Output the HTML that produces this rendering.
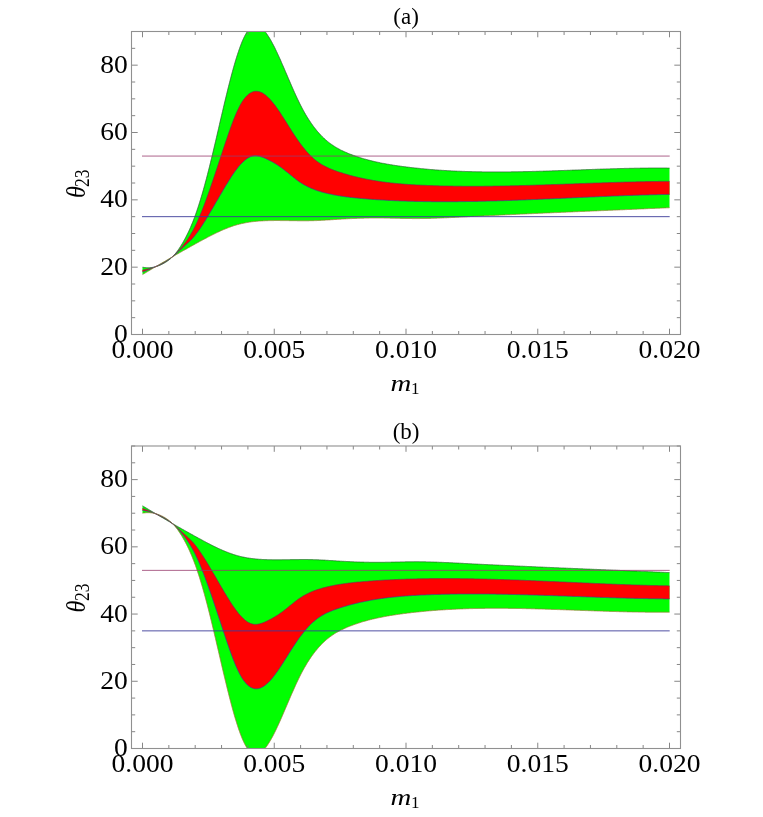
<!DOCTYPE html>
<html><head><meta charset="utf-8"><title>theta23 vs m1</title>
<style>
html,body{margin:0;padding:0;background:#fff;}
svg{display:block;}
text{font-family:"Liberation Serif",serif;fill:#000;}
.tk{font-size:26px;}
.tt{font-size:23px;}
.ax{font-size:26px;}
.sub{font-size:18px;}
</style></head><body>
<svg width="763" height="817" viewBox="0 0 763 817">
<rect width="763" height="817" fill="#fff"/>
<g opacity="0.999">
<clipPath id="c1"><rect x="131.5" y="31.5" width="549.0" height="303.0"/></clipPath>
<g clip-path="url(#c1)">
<path d="M142.5 267.2 L143.5 267.3 L144.5 267.5 L145.5 267.6 L146.5 267.7 L147.5 267.7 L148.5 267.7 L149.5 267.7 L150.5 267.6 L151.5 267.5 L152.5 267.4 L153.5 267.2 L154.5 267.0 L155.5 266.8 L156.5 266.5 L157.5 266.2 L158.5 265.8 L159.5 265.4 L160.5 265.0 L161.5 264.5 L162.5 264.0 L163.5 263.5 L164.5 262.9 L165.5 262.3 L166.5 261.7 L167.5 261.0 L168.5 260.3 L169.5 259.5 L170.5 258.7 L171.5 257.8 L172.5 256.8 L173.5 255.8 L174.5 254.7 L175.5 253.5 L176.5 252.2 L177.5 250.9 L178.5 249.4 L179.5 248.0 L180.5 246.4 L181.5 244.8 L182.5 243.2 L183.5 241.4 L184.5 239.6 L185.5 237.8 L186.5 235.8 L187.5 233.8 L188.5 231.8 L189.5 229.6 L190.5 227.4 L191.5 225.0 L192.5 222.6 L193.5 220.1 L194.5 217.4 L195.5 214.7 L196.5 211.9 L197.5 208.9 L198.5 205.9 L199.5 202.7 L200.5 199.5 L201.5 196.2 L202.5 192.8 L203.5 189.3 L204.5 185.7 L205.5 182.0 L206.5 178.3 L207.5 174.4 L208.5 170.5 L209.5 166.6 L210.5 162.5 L211.5 158.4 L212.5 154.3 L213.5 150.1 L214.5 145.8 L215.5 141.6 L216.5 137.3 L217.5 133.0 L218.5 128.7 L219.5 124.3 L220.5 120.0 L221.5 115.7 L222.5 111.5 L223.5 107.2 L224.5 103.0 L225.5 98.8 L226.5 94.7 L227.5 90.6 L228.5 86.6 L229.5 82.7 L230.5 78.8 L231.5 75.0 L232.5 71.3 L233.5 67.7 L234.5 64.2 L235.5 60.8 L236.5 57.5 L237.5 54.4 L238.5 51.4 L239.5 48.5 L240.5 45.8 L241.5 43.2 L242.5 40.7 L243.5 38.5 L244.5 36.4 L245.5 34.5 L246.5 32.8 L247.5 31.2 L248.5 29.9 L249.5 28.7 L250.5 27.8 L251.5 27.0 L252.5 26.4 L253.5 26.0 L254.5 25.7 L255.5 25.6 L256.5 25.6 L257.5 25.8 L258.5 26.2 L259.5 26.7 L260.5 27.3 L261.5 28.0 L262.5 28.9 L263.5 29.9 L264.5 31.0 L265.5 32.2 L266.5 33.5 L267.5 35.0 L268.5 36.5 L269.5 38.1 L270.5 39.8 L271.5 41.5 L272.5 43.4 L273.5 45.3 L274.5 47.2 L275.5 49.3 L276.5 51.4 L277.5 53.5 L278.5 55.7 L279.5 57.9 L280.5 60.1 L281.5 62.4 L282.5 64.7 L283.5 67.0 L284.5 69.3 L285.5 71.7 L286.5 74.0 L287.5 76.3 L288.5 78.7 L289.5 81.0 L290.5 83.3 L291.5 85.6 L292.5 87.9 L293.5 90.2 L294.5 92.4 L295.5 94.6 L296.5 96.8 L297.5 98.9 L298.5 101.0 L299.5 103.1 L300.5 105.1 L301.5 107.0 L302.5 108.9 L303.5 110.7 L304.5 112.5 L305.5 114.3 L306.5 116.0 L307.5 117.6 L308.5 119.2 L309.5 120.7 L310.5 122.2 L311.5 123.7 L312.5 125.1 L313.5 126.4 L314.5 127.8 L315.5 129.0 L316.5 130.3 L317.5 131.5 L318.5 132.6 L319.5 133.7 L320.5 134.8 L321.5 135.9 L322.5 136.9 L323.5 137.8 L324.5 138.8 L325.5 139.7 L326.5 140.5 L327.5 141.4 L328.5 142.2 L329.5 143.0 L330.5 143.7 L331.5 144.4 L332.5 145.1 L333.5 145.8 L334.5 146.4 L335.5 147.1 L336.5 147.7 L337.5 148.2 L338.5 148.8 L339.5 149.3 L340.5 149.9 L341.5 150.4 L342.5 150.8 L343.5 151.3 L344.5 151.8 L345.5 152.2 L346.5 152.6 L347.5 153.1 L348.5 153.5 L349.5 153.9 L350.5 154.3 L351.5 154.6 L352.5 155.0 L353.5 155.4 L354.5 155.7 L355.5 156.1 L356.5 156.4 L357.5 156.8 L358.5 157.1 L359.5 157.4 L360.5 157.8 L361.5 158.1 L362.5 158.4 L363.5 158.7 L364.5 159.0 L365.5 159.2 L366.5 159.5 L367.5 159.8 L368.5 160.1 L369.5 160.3 L370.5 160.6 L371.5 160.8 L372.5 161.1 L373.5 161.3 L374.5 161.6 L375.5 161.8 L376.5 162.0 L377.5 162.2 L378.5 162.4 L379.5 162.6 L380.5 162.9 L381.5 163.1 L382.5 163.3 L383.5 163.4 L384.5 163.6 L385.5 163.8 L386.5 164.0 L387.5 164.2 L388.5 164.3 L389.5 164.5 L390.5 164.7 L391.5 164.8 L392.5 165.0 L393.5 165.2 L394.5 165.3 L395.5 165.5 L396.5 165.6 L397.5 165.8 L398.5 165.9 L399.5 166.0 L400.5 166.2 L401.5 166.3 L402.5 166.5 L403.5 166.6 L404.5 166.7 L405.5 166.8 L406.5 167.0 L407.5 167.1 L408.5 167.2 L409.5 167.3 L410.5 167.5 L411.5 167.6 L412.5 167.7 L413.5 167.8 L414.5 167.9 L415.5 168.0 L416.5 168.1 L417.5 168.2 L418.5 168.3 L419.5 168.4 L420.5 168.6 L421.5 168.7 L422.5 168.7 L423.5 168.8 L424.5 168.9 L425.5 169.0 L426.5 169.1 L427.5 169.2 L428.5 169.3 L429.5 169.4 L430.5 169.5 L431.5 169.6 L432.5 169.6 L433.5 169.7 L434.5 169.8 L435.5 169.9 L436.5 169.9 L437.5 170.0 L438.5 170.1 L439.5 170.2 L440.5 170.2 L441.5 170.3 L442.5 170.4 L443.5 170.4 L444.5 170.5 L445.5 170.5 L446.5 170.6 L447.5 170.7 L448.5 170.7 L449.5 170.8 L450.5 170.8 L451.5 170.9 L452.5 170.9 L453.5 171.0 L454.5 171.0 L455.5 171.1 L456.5 171.1 L457.5 171.2 L458.5 171.2 L459.5 171.2 L460.5 171.3 L461.5 171.3 L462.5 171.4 L463.5 171.4 L464.5 171.4 L465.5 171.5 L466.5 171.5 L467.5 171.5 L468.5 171.6 L469.5 171.6 L470.5 171.6 L471.5 171.6 L472.5 171.7 L473.5 171.7 L474.5 171.7 L475.5 171.7 L476.5 171.8 L477.5 171.8 L478.5 171.8 L479.5 171.8 L480.5 171.8 L481.5 171.8 L482.5 171.9 L483.5 171.9 L484.5 171.9 L485.5 171.9 L486.5 171.9 L487.5 171.9 L488.5 171.9 L489.5 171.9 L490.5 171.9 L491.5 171.9 L492.5 171.9 L493.5 171.9 L494.5 171.9 L495.5 171.9 L496.5 171.9 L497.5 171.9 L498.5 171.9 L499.5 171.9 L500.5 171.9 L501.5 171.9 L502.5 171.9 L503.5 171.9 L504.5 171.9 L505.5 171.9 L506.5 171.9 L507.5 171.9 L508.5 171.9 L509.5 171.9 L510.5 171.9 L511.5 171.8 L512.5 171.8 L513.5 171.8 L514.5 171.8 L515.5 171.8 L516.5 171.8 L517.5 171.8 L518.5 171.7 L519.5 171.7 L520.5 171.7 L521.5 171.7 L522.5 171.7 L523.5 171.6 L524.5 171.6 L525.5 171.6 L526.5 171.6 L527.5 171.6 L528.5 171.5 L529.5 171.5 L530.5 171.5 L531.5 171.5 L532.5 171.4 L533.5 171.4 L534.5 171.4 L535.5 171.4 L536.5 171.3 L537.5 171.3 L538.5 171.3 L539.5 171.2 L540.5 171.2 L541.5 171.2 L542.5 171.2 L543.5 171.1 L544.5 171.1 L545.5 171.1 L546.5 171.0 L547.5 171.0 L548.5 171.0 L549.5 170.9 L550.5 170.9 L551.5 170.9 L552.5 170.8 L553.5 170.8 L554.5 170.8 L555.5 170.7 L556.5 170.7 L557.5 170.7 L558.5 170.6 L559.5 170.6 L560.5 170.6 L561.5 170.5 L562.5 170.5 L563.5 170.5 L564.5 170.4 L565.5 170.4 L566.5 170.4 L567.5 170.3 L568.5 170.3 L569.5 170.3 L570.5 170.2 L571.5 170.2 L572.5 170.1 L573.5 170.1 L574.5 170.1 L575.5 170.0 L576.5 170.0 L577.5 170.0 L578.5 169.9 L579.5 169.9 L580.5 169.9 L581.5 169.8 L582.5 169.8 L583.5 169.7 L584.5 169.7 L585.5 169.7 L586.5 169.6 L587.5 169.6 L588.5 169.6 L589.5 169.5 L590.5 169.5 L591.5 169.5 L592.5 169.4 L593.5 169.4 L594.5 169.4 L595.5 169.3 L596.5 169.3 L597.5 169.2 L598.5 169.2 L599.5 169.2 L600.5 169.1 L601.5 169.1 L602.5 169.1 L603.5 169.0 L604.5 169.0 L605.5 169.0 L606.5 168.9 L607.5 168.9 L608.5 168.9 L609.5 168.9 L610.5 168.8 L611.5 168.8 L612.5 168.8 L613.5 168.7 L614.5 168.7 L615.5 168.7 L616.5 168.7 L617.5 168.6 L618.5 168.6 L619.5 168.6 L620.5 168.5 L621.5 168.5 L622.5 168.5 L623.5 168.5 L624.5 168.4 L625.5 168.4 L626.5 168.4 L627.5 168.4 L628.5 168.4 L629.5 168.3 L630.5 168.3 L631.5 168.3 L632.5 168.3 L633.5 168.3 L634.5 168.2 L635.5 168.2 L636.5 168.2 L637.5 168.2 L638.5 168.2 L639.5 168.2 L640.5 168.1 L641.5 168.1 L642.5 168.1 L643.5 168.1 L644.5 168.1 L645.5 168.1 L646.5 168.1 L647.5 168.1 L648.5 168.0 L649.5 168.0 L650.5 168.0 L651.5 168.0 L652.5 168.0 L653.5 168.0 L654.5 168.0 L655.5 168.0 L656.5 168.0 L657.5 168.0 L658.5 168.0 L659.5 168.0 L660.5 168.0 L661.5 168.0 L662.5 168.0 L663.5 168.0 L664.5 168.0 L665.5 168.0 L666.5 168.0 L667.5 168.1 L668.5 168.1 L669.5 168.1 L669.5 207.7 L668.5 207.8 L667.5 207.8 L666.5 207.8 L665.5 207.9 L664.5 207.9 L663.5 208.0 L662.5 208.0 L661.5 208.1 L660.5 208.1 L659.5 208.2 L658.5 208.2 L657.5 208.2 L656.5 208.3 L655.5 208.3 L654.5 208.4 L653.5 208.4 L652.5 208.5 L651.5 208.5 L650.5 208.5 L649.5 208.6 L648.5 208.6 L647.5 208.7 L646.5 208.7 L645.5 208.8 L644.5 208.8 L643.5 208.9 L642.5 208.9 L641.5 208.9 L640.5 209.0 L639.5 209.0 L638.5 209.1 L637.5 209.1 L636.5 209.2 L635.5 209.2 L634.5 209.2 L633.5 209.3 L632.5 209.3 L631.5 209.4 L630.5 209.4 L629.5 209.5 L628.5 209.5 L627.5 209.5 L626.5 209.6 L625.5 209.6 L624.5 209.7 L623.5 209.7 L622.5 209.8 L621.5 209.8 L620.5 209.8 L619.5 209.9 L618.5 209.9 L617.5 210.0 L616.5 210.0 L615.5 210.1 L614.5 210.1 L613.5 210.1 L612.5 210.2 L611.5 210.2 L610.5 210.3 L609.5 210.3 L608.5 210.3 L607.5 210.4 L606.5 210.4 L605.5 210.5 L604.5 210.5 L603.5 210.6 L602.5 210.6 L601.5 210.6 L600.5 210.7 L599.5 210.7 L598.5 210.8 L597.5 210.8 L596.5 210.9 L595.5 210.9 L594.5 210.9 L593.5 211.0 L592.5 211.0 L591.5 211.1 L590.5 211.1 L589.5 211.2 L588.5 211.2 L587.5 211.2 L586.5 211.3 L585.5 211.3 L584.5 211.4 L583.5 211.4 L582.5 211.4 L581.5 211.5 L580.5 211.5 L579.5 211.6 L578.5 211.6 L577.5 211.7 L576.5 211.7 L575.5 211.7 L574.5 211.8 L573.5 211.8 L572.5 211.9 L571.5 211.9 L570.5 212.0 L569.5 212.0 L568.5 212.0 L567.5 212.1 L566.5 212.1 L565.5 212.2 L564.5 212.2 L563.5 212.3 L562.5 212.3 L561.5 212.3 L560.5 212.4 L559.5 212.4 L558.5 212.5 L557.5 212.5 L556.5 212.6 L555.5 212.6 L554.5 212.6 L553.5 212.7 L552.5 212.7 L551.5 212.8 L550.5 212.8 L549.5 212.9 L548.5 212.9 L547.5 212.9 L546.5 213.0 L545.5 213.0 L544.5 213.1 L543.5 213.1 L542.5 213.2 L541.5 213.2 L540.5 213.3 L539.5 213.3 L538.5 213.3 L537.5 213.4 L536.5 213.4 L535.5 213.5 L534.5 213.5 L533.5 213.6 L532.5 213.6 L531.5 213.7 L530.5 213.7 L529.5 213.7 L528.5 213.8 L527.5 213.8 L526.5 213.9 L525.5 213.9 L524.5 214.0 L523.5 214.0 L522.5 214.1 L521.5 214.1 L520.5 214.1 L519.5 214.2 L518.5 214.2 L517.5 214.3 L516.5 214.3 L515.5 214.4 L514.5 214.4 L513.5 214.5 L512.5 214.5 L511.5 214.6 L510.5 214.6 L509.5 214.7 L508.5 214.7 L507.5 214.7 L506.5 214.8 L505.5 214.8 L504.5 214.9 L503.5 214.9 L502.5 215.0 L501.5 215.0 L500.5 215.1 L499.5 215.1 L498.5 215.2 L497.5 215.2 L496.5 215.3 L495.5 215.3 L494.5 215.4 L493.5 215.4 L492.5 215.5 L491.5 215.5 L490.5 215.6 L489.5 215.6 L488.5 215.7 L487.5 215.7 L486.5 215.7 L485.5 215.8 L484.5 215.8 L483.5 215.9 L482.5 215.9 L481.5 216.0 L480.5 216.0 L479.5 216.1 L478.5 216.1 L477.5 216.2 L476.5 216.2 L475.5 216.3 L474.5 216.3 L473.5 216.4 L472.5 216.4 L471.5 216.5 L470.5 216.5 L469.5 216.6 L468.5 216.6 L467.5 216.7 L466.5 216.8 L465.5 216.8 L464.5 216.9 L463.5 216.9 L462.5 217.0 L461.5 217.0 L460.5 217.1 L459.5 217.1 L458.5 217.2 L457.5 217.2 L456.5 217.3 L455.5 217.3 L454.5 217.4 L453.5 217.4 L452.5 217.5 L451.5 217.5 L450.5 217.6 L449.5 217.6 L448.5 217.7 L447.5 217.7 L446.5 217.8 L445.5 217.8 L444.5 217.8 L443.5 217.9 L442.5 217.9 L441.5 218.0 L440.5 218.0 L439.5 218.1 L438.5 218.1 L437.5 218.1 L436.5 218.2 L435.5 218.2 L434.5 218.2 L433.5 218.3 L432.5 218.3 L431.5 218.3 L430.5 218.4 L429.5 218.4 L428.5 218.4 L427.5 218.4 L426.5 218.5 L425.5 218.5 L424.5 218.5 L423.5 218.5 L422.5 218.5 L421.5 218.5 L420.5 218.5 L419.5 218.6 L418.5 218.6 L417.5 218.6 L416.5 218.6 L415.5 218.6 L414.5 218.6 L413.5 218.6 L412.5 218.6 L411.5 218.5 L410.5 218.5 L409.5 218.5 L408.5 218.5 L407.5 218.5 L406.5 218.5 L405.5 218.5 L404.5 218.4 L403.5 218.4 L402.5 218.4 L401.5 218.4 L400.5 218.4 L399.5 218.3 L398.5 218.3 L397.5 218.3 L396.5 218.3 L395.5 218.3 L394.5 218.2 L393.5 218.2 L392.5 218.2 L391.5 218.2 L390.5 218.2 L389.5 218.1 L388.5 218.1 L387.5 218.1 L386.5 218.1 L385.5 218.1 L384.5 218.1 L383.5 218.0 L382.5 218.0 L381.5 218.0 L380.5 218.0 L379.5 218.0 L378.5 218.0 L377.5 218.0 L376.5 218.0 L375.5 218.0 L374.5 218.0 L373.5 218.0 L372.5 218.0 L371.5 218.0 L370.5 218.0 L369.5 218.0 L368.5 218.1 L367.5 218.1 L366.5 218.1 L365.5 218.1 L364.5 218.1 L363.5 218.2 L362.5 218.2 L361.5 218.2 L360.5 218.2 L359.5 218.3 L358.5 218.3 L357.5 218.3 L356.5 218.4 L355.5 218.4 L354.5 218.5 L353.5 218.5 L352.5 218.5 L351.5 218.6 L350.5 218.6 L349.5 218.7 L348.5 218.7 L347.5 218.8 L346.5 218.8 L345.5 218.9 L344.5 218.9 L343.5 219.0 L342.5 219.0 L341.5 219.1 L340.5 219.2 L339.5 219.2 L338.5 219.3 L337.5 219.3 L336.5 219.4 L335.5 219.5 L334.5 219.5 L333.5 219.6 L332.5 219.7 L331.5 219.7 L330.5 219.8 L329.5 219.9 L328.5 219.9 L327.5 220.0 L326.5 220.0 L325.5 220.1 L324.5 220.2 L323.5 220.2 L322.5 220.3 L321.5 220.3 L320.5 220.4 L319.5 220.4 L318.5 220.5 L317.5 220.5 L316.5 220.6 L315.5 220.6 L314.5 220.6 L313.5 220.7 L312.5 220.7 L311.5 220.7 L310.5 220.7 L309.5 220.7 L308.5 220.8 L307.5 220.8 L306.5 220.8 L305.5 220.8 L304.5 220.8 L303.5 220.8 L302.5 220.8 L301.5 220.8 L300.5 220.8 L299.5 220.8 L298.5 220.8 L297.5 220.8 L296.5 220.7 L295.5 220.7 L294.5 220.7 L293.5 220.7 L292.5 220.7 L291.5 220.7 L290.5 220.7 L289.5 220.7 L288.5 220.6 L287.5 220.6 L286.5 220.6 L285.5 220.6 L284.5 220.6 L283.5 220.6 L282.5 220.6 L281.5 220.6 L280.5 220.6 L279.5 220.5 L278.5 220.5 L277.5 220.5 L276.5 220.5 L275.5 220.5 L274.5 220.5 L273.5 220.6 L272.5 220.6 L271.5 220.6 L270.5 220.6 L269.5 220.6 L268.5 220.6 L267.5 220.7 L266.5 220.7 L265.5 220.7 L264.5 220.8 L263.5 220.8 L262.5 220.9 L261.5 220.9 L260.5 221.0 L259.5 221.0 L258.5 221.1 L257.5 221.2 L256.5 221.3 L255.5 221.4 L254.5 221.5 L253.5 221.6 L252.5 221.7 L251.5 221.8 L250.5 222.0 L249.5 222.1 L248.5 222.3 L247.5 222.4 L246.5 222.6 L245.5 222.8 L244.5 223.0 L243.5 223.2 L242.5 223.4 L241.5 223.6 L240.5 223.9 L239.5 224.1 L238.5 224.4 L237.5 224.6 L236.5 224.9 L235.5 225.2 L234.5 225.5 L233.5 225.8 L232.5 226.2 L231.5 226.5 L230.5 226.9 L229.5 227.2 L228.5 227.6 L227.5 228.0 L226.5 228.4 L225.5 228.8 L224.5 229.2 L223.5 229.6 L222.5 230.1 L221.5 230.5 L220.5 230.9 L219.5 231.4 L218.5 231.9 L217.5 232.3 L216.5 232.8 L215.5 233.3 L214.5 233.8 L213.5 234.3 L212.5 234.8 L211.5 235.3 L210.5 235.8 L209.5 236.3 L208.5 236.8 L207.5 237.3 L206.5 237.9 L205.5 238.4 L204.5 238.9 L203.5 239.5 L202.5 240.0 L201.5 240.6 L200.5 241.1 L199.5 241.6 L198.5 242.2 L197.5 242.7 L196.5 243.3 L195.5 243.8 L194.5 244.4 L193.5 244.9 L192.5 245.5 L191.5 246.1 L190.5 246.6 L189.5 247.2 L188.5 247.7 L187.5 248.3 L186.5 248.9 L185.5 249.4 L184.5 250.0 L183.5 250.5 L182.5 251.1 L181.5 251.7 L180.5 252.2 L179.5 252.8 L178.5 253.4 L177.5 253.9 L176.5 254.5 L175.5 255.1 L174.5 255.7 L173.5 256.2 L172.5 256.8 L171.5 257.4 L170.5 258.0 L169.5 258.5 L168.5 259.1 L167.5 259.7 L166.5 260.3 L165.5 260.9 L164.5 261.5 L163.5 262.0 L162.5 262.6 L161.5 263.2 L160.5 263.8 L159.5 264.4 L158.5 265.0 L157.5 265.6 L156.5 266.2 L155.5 266.8 L154.5 267.4 L153.5 268.0 L152.5 268.6 L151.5 269.2 L150.5 269.8 L149.5 270.4 L148.5 271.0 L147.5 271.6 L146.5 272.2 L145.5 272.8 L144.5 273.4 L143.5 274.0 L142.5 274.6Z" fill="#00ff00"/>
<path d="M142.5 270.0 L143.5 269.9 L144.5 269.7 L145.5 269.5 L146.5 269.3 L147.5 269.1 L148.5 268.9 L149.5 268.6 L150.5 268.3 L151.5 268.1 L152.5 267.7 L153.5 267.4 L154.5 267.1 L155.5 266.7 L156.5 266.3 L157.5 265.9 L158.5 265.5 L159.5 265.0 L160.5 264.6 L161.5 264.1 L162.5 263.6 L163.5 263.0 L164.5 262.4 L165.5 261.8 L166.5 261.2 L167.5 260.5 L168.5 259.8 L169.5 259.1 L170.5 258.3 L171.5 257.5 L172.5 256.7 L173.5 255.8 L174.5 254.9 L175.5 253.9 L176.5 252.9 L177.5 251.9 L178.5 250.8 L179.5 249.7 L180.5 248.6 L181.5 247.4 L182.5 246.2 L183.5 244.9 L184.5 243.6 L185.5 242.3 L186.5 240.9 L187.5 239.5 L188.5 238.0 L189.5 236.4 L190.5 234.8 L191.5 233.1 L192.5 231.4 L193.5 229.5 L194.5 227.6 L195.5 225.6 L196.5 223.5 L197.5 221.3 L198.5 219.0 L199.5 216.7 L200.5 214.3 L201.5 211.9 L202.5 209.4 L203.5 206.8 L204.5 204.2 L205.5 201.5 L206.5 198.8 L207.5 196.0 L208.5 193.2 L209.5 190.4 L210.5 187.5 L211.5 184.6 L212.5 181.7 L213.5 178.7 L214.5 175.8 L215.5 172.8 L216.5 169.8 L217.5 166.8 L218.5 163.7 L219.5 160.7 L220.5 157.7 L221.5 154.7 L222.5 151.6 L223.5 148.6 L224.5 145.6 L225.5 142.6 L226.5 139.7 L227.5 136.7 L228.5 133.8 L229.5 131.0 L230.5 128.2 L231.5 125.4 L232.5 122.7 L233.5 120.1 L234.5 117.6 L235.5 115.2 L236.5 112.8 L237.5 110.6 L238.5 108.5 L239.5 106.5 L240.5 104.6 L241.5 102.9 L242.5 101.3 L243.5 99.8 L244.5 98.5 L245.5 97.3 L246.5 96.2 L247.5 95.2 L248.5 94.3 L249.5 93.6 L250.5 92.9 L251.5 92.4 L252.5 92.0 L253.5 91.6 L254.5 91.4 L255.5 91.3 L256.5 91.3 L257.5 91.4 L258.5 91.5 L259.5 91.8 L260.5 92.2 L261.5 92.6 L262.5 93.1 L263.5 93.7 L264.5 94.4 L265.5 95.1 L266.5 96.0 L267.5 96.9 L268.5 97.8 L269.5 98.8 L270.5 99.9 L271.5 101.1 L272.5 102.3 L273.5 103.5 L274.5 104.8 L275.5 106.1 L276.5 107.5 L277.5 108.9 L278.5 110.3 L279.5 111.8 L280.5 113.3 L281.5 114.9 L282.5 116.4 L283.5 118.0 L284.5 119.6 L285.5 121.1 L286.5 122.7 L287.5 124.3 L288.5 125.9 L289.5 127.5 L290.5 129.1 L291.5 130.7 L292.5 132.2 L293.5 133.8 L294.5 135.3 L295.5 136.8 L296.5 138.3 L297.5 139.7 L298.5 141.1 L299.5 142.5 L300.5 143.9 L301.5 145.2 L302.5 146.5 L303.5 147.8 L304.5 149.0 L305.5 150.2 L306.5 151.4 L307.5 152.5 L308.5 153.6 L309.5 154.7 L310.5 155.7 L311.5 156.7 L312.5 157.6 L313.5 158.5 L314.5 159.4 L315.5 160.2 L316.5 161.0 L317.5 161.7 L318.5 162.4 L319.5 163.1 L320.5 163.8 L321.5 164.4 L322.5 165.0 L323.5 165.5 L324.5 166.1 L325.5 166.6 L326.5 167.1 L327.5 167.6 L328.5 168.0 L329.5 168.5 L330.5 168.9 L331.5 169.3 L332.5 169.7 L333.5 170.1 L334.5 170.5 L335.5 170.8 L336.5 171.2 L337.5 171.5 L338.5 171.9 L339.5 172.2 L340.5 172.5 L341.5 172.8 L342.5 173.1 L343.5 173.5 L344.5 173.8 L345.5 174.1 L346.5 174.3 L347.5 174.6 L348.5 174.9 L349.5 175.2 L350.5 175.5 L351.5 175.7 L352.5 176.0 L353.5 176.3 L354.5 176.5 L355.5 176.8 L356.5 177.0 L357.5 177.2 L358.5 177.5 L359.5 177.7 L360.5 177.9 L361.5 178.1 L362.5 178.4 L363.5 178.6 L364.5 178.8 L365.5 179.0 L366.5 179.2 L367.5 179.4 L368.5 179.6 L369.5 179.8 L370.5 179.9 L371.5 180.1 L372.5 180.3 L373.5 180.5 L374.5 180.6 L375.5 180.8 L376.5 181.0 L377.5 181.1 L378.5 181.3 L379.5 181.4 L380.5 181.6 L381.5 181.7 L382.5 181.9 L383.5 182.0 L384.5 182.1 L385.5 182.3 L386.5 182.4 L387.5 182.5 L388.5 182.6 L389.5 182.7 L390.5 182.9 L391.5 183.0 L392.5 183.1 L393.5 183.2 L394.5 183.3 L395.5 183.4 L396.5 183.5 L397.5 183.6 L398.5 183.7 L399.5 183.8 L400.5 183.8 L401.5 183.9 L402.5 184.0 L403.5 184.1 L404.5 184.2 L405.5 184.3 L406.5 184.3 L407.5 184.4 L408.5 184.5 L409.5 184.5 L410.5 184.6 L411.5 184.7 L412.5 184.7 L413.5 184.8 L414.5 184.8 L415.5 184.9 L416.5 185.0 L417.5 185.0 L418.5 185.1 L419.5 185.1 L420.5 185.2 L421.5 185.2 L422.5 185.3 L423.5 185.3 L424.5 185.3 L425.5 185.4 L426.5 185.4 L427.5 185.5 L428.5 185.5 L429.5 185.5 L430.5 185.6 L431.5 185.6 L432.5 185.6 L433.5 185.7 L434.5 185.7 L435.5 185.7 L436.5 185.8 L437.5 185.8 L438.5 185.8 L439.5 185.9 L440.5 185.9 L441.5 185.9 L442.5 185.9 L443.5 186.0 L444.5 186.0 L445.5 186.0 L446.5 186.0 L447.5 186.0 L448.5 186.1 L449.5 186.1 L450.5 186.1 L451.5 186.1 L452.5 186.1 L453.5 186.2 L454.5 186.2 L455.5 186.2 L456.5 186.2 L457.5 186.2 L458.5 186.2 L459.5 186.2 L460.5 186.2 L461.5 186.2 L462.5 186.3 L463.5 186.3 L464.5 186.3 L465.5 186.3 L466.5 186.3 L467.5 186.3 L468.5 186.3 L469.5 186.3 L470.5 186.3 L471.5 186.3 L472.5 186.3 L473.5 186.3 L474.5 186.3 L475.5 186.3 L476.5 186.3 L477.5 186.3 L478.5 186.3 L479.5 186.3 L480.5 186.3 L481.5 186.3 L482.5 186.3 L483.5 186.3 L484.5 186.2 L485.5 186.2 L486.5 186.2 L487.5 186.2 L488.5 186.2 L489.5 186.2 L490.5 186.2 L491.5 186.2 L492.5 186.2 L493.5 186.1 L494.5 186.1 L495.5 186.1 L496.5 186.1 L497.5 186.1 L498.5 186.1 L499.5 186.1 L500.5 186.0 L501.5 186.0 L502.5 186.0 L503.5 186.0 L504.5 186.0 L505.5 185.9 L506.5 185.9 L507.5 185.9 L508.5 185.9 L509.5 185.9 L510.5 185.8 L511.5 185.8 L512.5 185.8 L513.5 185.8 L514.5 185.8 L515.5 185.7 L516.5 185.7 L517.5 185.7 L518.5 185.7 L519.5 185.6 L520.5 185.6 L521.5 185.6 L522.5 185.5 L523.5 185.5 L524.5 185.5 L525.5 185.5 L526.5 185.4 L527.5 185.4 L528.5 185.4 L529.5 185.4 L530.5 185.3 L531.5 185.3 L532.5 185.3 L533.5 185.2 L534.5 185.2 L535.5 185.2 L536.5 185.1 L537.5 185.1 L538.5 185.1 L539.5 185.0 L540.5 185.0 L541.5 185.0 L542.5 184.9 L543.5 184.9 L544.5 184.9 L545.5 184.8 L546.5 184.8 L547.5 184.8 L548.5 184.7 L549.5 184.7 L550.5 184.7 L551.5 184.6 L552.5 184.6 L553.5 184.6 L554.5 184.5 L555.5 184.5 L556.5 184.5 L557.5 184.4 L558.5 184.4 L559.5 184.4 L560.5 184.3 L561.5 184.3 L562.5 184.3 L563.5 184.2 L564.5 184.2 L565.5 184.1 L566.5 184.1 L567.5 184.1 L568.5 184.0 L569.5 184.0 L570.5 184.0 L571.5 183.9 L572.5 183.9 L573.5 183.9 L574.5 183.8 L575.5 183.8 L576.5 183.7 L577.5 183.7 L578.5 183.7 L579.5 183.6 L580.5 183.6 L581.5 183.6 L582.5 183.5 L583.5 183.5 L584.5 183.5 L585.5 183.4 L586.5 183.4 L587.5 183.3 L588.5 183.3 L589.5 183.3 L590.5 183.2 L591.5 183.2 L592.5 183.2 L593.5 183.1 L594.5 183.1 L595.5 183.1 L596.5 183.0 L597.5 183.0 L598.5 183.0 L599.5 182.9 L600.5 182.9 L601.5 182.9 L602.5 182.8 L603.5 182.8 L604.5 182.8 L605.5 182.7 L606.5 182.7 L607.5 182.7 L608.5 182.6 L609.5 182.6 L610.5 182.6 L611.5 182.5 L612.5 182.5 L613.5 182.5 L614.5 182.4 L615.5 182.4 L616.5 182.4 L617.5 182.3 L618.5 182.3 L619.5 182.3 L620.5 182.3 L621.5 182.2 L622.5 182.2 L623.5 182.2 L624.5 182.1 L625.5 182.1 L626.5 182.1 L627.5 182.1 L628.5 182.0 L629.5 182.0 L630.5 182.0 L631.5 182.0 L632.5 181.9 L633.5 181.9 L634.5 181.9 L635.5 181.9 L636.5 181.8 L637.5 181.8 L638.5 181.8 L639.5 181.8 L640.5 181.7 L641.5 181.7 L642.5 181.7 L643.5 181.7 L644.5 181.7 L645.5 181.6 L646.5 181.6 L647.5 181.6 L648.5 181.6 L649.5 181.6 L650.5 181.6 L651.5 181.5 L652.5 181.5 L653.5 181.5 L654.5 181.5 L655.5 181.5 L656.5 181.5 L657.5 181.5 L658.5 181.4 L659.5 181.4 L660.5 181.4 L661.5 181.4 L662.5 181.4 L663.5 181.4 L664.5 181.4 L665.5 181.4 L666.5 181.4 L667.5 181.4 L668.5 181.4 L669.5 181.4 L669.5 194.4 L668.5 194.4 L667.5 194.4 L666.5 194.4 L665.5 194.5 L664.5 194.5 L663.5 194.5 L662.5 194.5 L661.5 194.5 L660.5 194.6 L659.5 194.6 L658.5 194.6 L657.5 194.6 L656.5 194.7 L655.5 194.7 L654.5 194.7 L653.5 194.7 L652.5 194.8 L651.5 194.8 L650.5 194.8 L649.5 194.8 L648.5 194.9 L647.5 194.9 L646.5 194.9 L645.5 195.0 L644.5 195.0 L643.5 195.0 L642.5 195.0 L641.5 195.1 L640.5 195.1 L639.5 195.1 L638.5 195.2 L637.5 195.2 L636.5 195.2 L635.5 195.3 L634.5 195.3 L633.5 195.3 L632.5 195.4 L631.5 195.4 L630.5 195.4 L629.5 195.5 L628.5 195.5 L627.5 195.5 L626.5 195.6 L625.5 195.6 L624.5 195.6 L623.5 195.7 L622.5 195.7 L621.5 195.8 L620.5 195.8 L619.5 195.8 L618.5 195.9 L617.5 195.9 L616.5 196.0 L615.5 196.0 L614.5 196.0 L613.5 196.1 L612.5 196.1 L611.5 196.1 L610.5 196.2 L609.5 196.2 L608.5 196.3 L607.5 196.3 L606.5 196.4 L605.5 196.4 L604.5 196.4 L603.5 196.5 L602.5 196.5 L601.5 196.6 L600.5 196.6 L599.5 196.6 L598.5 196.7 L597.5 196.7 L596.5 196.8 L595.5 196.8 L594.5 196.9 L593.5 196.9 L592.5 196.9 L591.5 197.0 L590.5 197.0 L589.5 197.1 L588.5 197.1 L587.5 197.2 L586.5 197.2 L585.5 197.3 L584.5 197.3 L583.5 197.3 L582.5 197.4 L581.5 197.4 L580.5 197.5 L579.5 197.5 L578.5 197.6 L577.5 197.6 L576.5 197.7 L575.5 197.7 L574.5 197.7 L573.5 197.8 L572.5 197.8 L571.5 197.9 L570.5 197.9 L569.5 198.0 L568.5 198.0 L567.5 198.1 L566.5 198.1 L565.5 198.2 L564.5 198.2 L563.5 198.2 L562.5 198.3 L561.5 198.3 L560.5 198.4 L559.5 198.4 L558.5 198.5 L557.5 198.5 L556.5 198.6 L555.5 198.6 L554.5 198.6 L553.5 198.7 L552.5 198.7 L551.5 198.8 L550.5 198.8 L549.5 198.9 L548.5 198.9 L547.5 198.9 L546.5 199.0 L545.5 199.0 L544.5 199.1 L543.5 199.1 L542.5 199.2 L541.5 199.2 L540.5 199.2 L539.5 199.3 L538.5 199.3 L537.5 199.4 L536.5 199.4 L535.5 199.5 L534.5 199.5 L533.5 199.5 L532.5 199.6 L531.5 199.6 L530.5 199.7 L529.5 199.7 L528.5 199.7 L527.5 199.8 L526.5 199.8 L525.5 199.9 L524.5 199.9 L523.5 199.9 L522.5 200.0 L521.5 200.0 L520.5 200.1 L519.5 200.1 L518.5 200.1 L517.5 200.2 L516.5 200.2 L515.5 200.2 L514.5 200.3 L513.5 200.3 L512.5 200.3 L511.5 200.4 L510.5 200.4 L509.5 200.5 L508.5 200.5 L507.5 200.5 L506.5 200.6 L505.5 200.6 L504.5 200.6 L503.5 200.7 L502.5 200.7 L501.5 200.7 L500.5 200.7 L499.5 200.8 L498.5 200.8 L497.5 200.8 L496.5 200.9 L495.5 200.9 L494.5 200.9 L493.5 201.0 L492.5 201.0 L491.5 201.0 L490.5 201.0 L489.5 201.1 L488.5 201.1 L487.5 201.1 L486.5 201.1 L485.5 201.2 L484.5 201.2 L483.5 201.2 L482.5 201.2 L481.5 201.3 L480.5 201.3 L479.5 201.3 L478.5 201.3 L477.5 201.4 L476.5 201.4 L475.5 201.4 L474.5 201.4 L473.5 201.4 L472.5 201.5 L471.5 201.5 L470.5 201.5 L469.5 201.5 L468.5 201.5 L467.5 201.5 L466.5 201.5 L465.5 201.6 L464.5 201.6 L463.5 201.6 L462.5 201.6 L461.5 201.6 L460.5 201.6 L459.5 201.6 L458.5 201.6 L457.5 201.7 L456.5 201.7 L455.5 201.7 L454.5 201.7 L453.5 201.7 L452.5 201.7 L451.5 201.7 L450.5 201.7 L449.5 201.7 L448.5 201.7 L447.5 201.7 L446.5 201.7 L445.5 201.7 L444.5 201.7 L443.5 201.7 L442.5 201.7 L441.5 201.7 L440.5 201.7 L439.5 201.7 L438.5 201.7 L437.5 201.7 L436.5 201.7 L435.5 201.7 L434.5 201.7 L433.5 201.7 L432.5 201.7 L431.5 201.7 L430.5 201.6 L429.5 201.6 L428.5 201.6 L427.5 201.6 L426.5 201.6 L425.5 201.6 L424.5 201.6 L423.5 201.6 L422.5 201.5 L421.5 201.5 L420.5 201.5 L419.5 201.5 L418.5 201.5 L417.5 201.4 L416.5 201.4 L415.5 201.4 L414.5 201.4 L413.5 201.3 L412.5 201.3 L411.5 201.3 L410.5 201.3 L409.5 201.2 L408.5 201.2 L407.5 201.2 L406.5 201.1 L405.5 201.1 L404.5 201.1 L403.5 201.0 L402.5 201.0 L401.5 201.0 L400.5 200.9 L399.5 200.9 L398.5 200.8 L397.5 200.8 L396.5 200.7 L395.5 200.7 L394.5 200.7 L393.5 200.6 L392.5 200.6 L391.5 200.5 L390.5 200.5 L389.5 200.4 L388.5 200.4 L387.5 200.3 L386.5 200.3 L385.5 200.2 L384.5 200.1 L383.5 200.1 L382.5 200.0 L381.5 200.0 L380.5 199.9 L379.5 199.8 L378.5 199.8 L377.5 199.7 L376.5 199.7 L375.5 199.6 L374.5 199.5 L373.5 199.4 L372.5 199.4 L371.5 199.3 L370.5 199.2 L369.5 199.2 L368.5 199.1 L367.5 199.0 L366.5 198.9 L365.5 198.8 L364.5 198.8 L363.5 198.7 L362.5 198.6 L361.5 198.5 L360.5 198.4 L359.5 198.3 L358.5 198.2 L357.5 198.1 L356.5 198.0 L355.5 197.9 L354.5 197.8 L353.5 197.7 L352.5 197.6 L351.5 197.5 L350.5 197.4 L349.5 197.3 L348.5 197.1 L347.5 197.0 L346.5 196.9 L345.5 196.8 L344.5 196.6 L343.5 196.5 L342.5 196.3 L341.5 196.2 L340.5 196.0 L339.5 195.8 L338.5 195.7 L337.5 195.5 L336.5 195.3 L335.5 195.1 L334.5 195.0 L333.5 194.8 L332.5 194.6 L331.5 194.3 L330.5 194.1 L329.5 193.9 L328.5 193.7 L327.5 193.5 L326.5 193.2 L325.5 193.0 L324.5 192.7 L323.5 192.4 L322.5 192.2 L321.5 191.9 L320.5 191.6 L319.5 191.3 L318.5 191.0 L317.5 190.7 L316.5 190.3 L315.5 190.0 L314.5 189.6 L313.5 189.2 L312.5 188.8 L311.5 188.4 L310.5 188.0 L309.5 187.5 L308.5 187.1 L307.5 186.6 L306.5 186.1 L305.5 185.5 L304.5 185.0 L303.5 184.4 L302.5 183.8 L301.5 183.2 L300.5 182.5 L299.5 181.9 L298.5 181.2 L297.5 180.4 L296.5 179.7 L295.5 178.9 L294.5 178.1 L293.5 177.4 L292.5 176.5 L291.5 175.7 L290.5 174.9 L289.5 174.1 L288.5 173.3 L287.5 172.5 L286.5 171.7 L285.5 170.9 L284.5 170.1 L283.5 169.3 L282.5 168.6 L281.5 167.8 L280.5 167.1 L279.5 166.4 L278.5 165.7 L277.5 165.0 L276.5 164.4 L275.5 163.8 L274.5 163.2 L273.5 162.6 L272.5 162.0 L271.5 161.5 L270.5 160.9 L269.5 160.4 L268.5 159.9 L267.5 159.4 L266.5 158.9 L265.5 158.5 L264.5 158.1 L263.5 157.6 L262.5 157.3 L261.5 156.9 L260.5 156.6 L259.5 156.3 L258.5 156.1 L257.5 156.0 L256.5 155.8 L255.5 155.8 L254.5 155.8 L253.5 155.9 L252.5 156.1 L251.5 156.4 L250.5 156.7 L249.5 157.2 L248.5 157.7 L247.5 158.3 L246.5 159.0 L245.5 159.7 L244.5 160.6 L243.5 161.4 L242.5 162.4 L241.5 163.4 L240.5 164.5 L239.5 165.6 L238.5 166.8 L237.5 168.1 L236.5 169.4 L235.5 170.7 L234.5 172.1 L233.5 173.6 L232.5 175.0 L231.5 176.5 L230.5 178.1 L229.5 179.7 L228.5 181.2 L227.5 182.9 L226.5 184.5 L225.5 186.1 L224.5 187.8 L223.5 189.5 L222.5 191.2 L221.5 192.9 L220.5 194.6 L219.5 196.3 L218.5 198.0 L217.5 199.8 L216.5 201.5 L215.5 203.2 L214.5 204.9 L213.5 206.7 L212.5 208.4 L211.5 210.1 L210.5 211.8 L209.5 213.5 L208.5 215.2 L207.5 216.9 L206.5 218.5 L205.5 220.2 L204.5 221.8 L203.5 223.3 L202.5 224.9 L201.5 226.4 L200.5 227.9 L199.5 229.4 L198.5 230.8 L197.5 232.2 L196.5 233.5 L195.5 234.8 L194.5 236.0 L193.5 237.2 L192.5 238.4 L191.5 239.5 L190.5 240.5 L189.5 241.5 L188.5 242.4 L187.5 243.3 L186.5 244.2 L185.5 245.1 L184.5 246.0 L183.5 247.0 L182.5 247.9 L181.5 248.8 L180.5 249.7 L179.5 250.7 L178.5 251.6 L177.5 252.5 L176.5 253.4 L175.5 254.3 L174.5 255.1 L173.5 255.9 L172.5 256.7 L171.5 257.5 L170.5 258.2 L169.5 258.9 L168.5 259.6 L167.5 260.2 L166.5 260.8 L165.5 261.4 L164.5 262.0 L163.5 262.6 L162.5 263.1 L161.5 263.7 L160.5 264.2 L159.5 264.7 L158.5 265.2 L157.5 265.7 L156.5 266.1 L155.5 266.6 L154.5 267.1 L153.5 267.5 L152.5 268.0 L151.5 268.4 L150.5 268.9 L149.5 269.3 L148.5 269.7 L147.5 270.1 L146.5 270.5 L145.5 270.9 L144.5 271.2 L143.5 271.6 L142.5 271.9Z" fill="#ff0000"/>
<path d="M142.5 267.2 L143.5 267.3 L144.5 267.5 L145.5 267.6 L146.5 267.7 L147.5 267.7 L148.5 267.7 L149.5 267.7 L150.5 267.6 L151.5 267.5 L152.5 267.4 L153.5 267.2 L154.5 267.0 L155.5 266.8 L156.5 266.5 L157.5 266.2 L158.5 265.8 L159.5 265.4 L160.5 265.0 L161.5 264.5 L162.5 264.0 L163.5 263.5 L164.5 262.9 L165.5 262.3 L166.5 261.7 L167.5 261.0 L168.5 260.3 L169.5 259.5 L170.5 258.7 L171.5 257.8 L172.5 256.8 L173.5 255.8 L174.5 254.7 L175.5 253.5 L176.5 252.2 L177.5 250.9 L178.5 249.4 L179.5 248.0 L180.5 246.4 L181.5 244.8 L182.5 243.2 L183.5 241.4 L184.5 239.6 L185.5 237.8 L186.5 235.8 L187.5 233.8 L188.5 231.8 L189.5 229.6 L190.5 227.4 L191.5 225.0 L192.5 222.6 L193.5 220.1 L194.5 217.4 L195.5 214.7 L196.5 211.9 L197.5 208.9 L198.5 205.9 L199.5 202.7 L200.5 199.5 L201.5 196.2 L202.5 192.8 L203.5 189.3 L204.5 185.7 L205.5 182.0 L206.5 178.3 L207.5 174.4 L208.5 170.5 L209.5 166.6 L210.5 162.5 L211.5 158.4 L212.5 154.3 L213.5 150.1 L214.5 145.8 L215.5 141.6 L216.5 137.3 L217.5 133.0 L218.5 128.7 L219.5 124.3 L220.5 120.0 L221.5 115.7 L222.5 111.5 L223.5 107.2 L224.5 103.0 L225.5 98.8 L226.5 94.7 L227.5 90.6 L228.5 86.6 L229.5 82.7 L230.5 78.8 L231.5 75.0 L232.5 71.3 L233.5 67.7 L234.5 64.2 L235.5 60.8 L236.5 57.5 L237.5 54.4 L238.5 51.4 L239.5 48.5 L240.5 45.8 L241.5 43.2 L242.5 40.7 L243.5 38.5 L244.5 36.4 L245.5 34.5 L246.5 32.8 L247.5 31.2 L248.5 29.9 L249.5 28.7 L250.5 27.8 L251.5 27.0 L252.5 26.4 L253.5 26.0 L254.5 25.7 L255.5 25.6 L256.5 25.6 L257.5 25.8 L258.5 26.2 L259.5 26.7 L260.5 27.3 L261.5 28.0 L262.5 28.9 L263.5 29.9 L264.5 31.0 L265.5 32.2 L266.5 33.5 L267.5 35.0 L268.5 36.5 L269.5 38.1 L270.5 39.8 L271.5 41.5 L272.5 43.4 L273.5 45.3 L274.5 47.2 L275.5 49.3 L276.5 51.4 L277.5 53.5 L278.5 55.7 L279.5 57.9 L280.5 60.1 L281.5 62.4 L282.5 64.7 L283.5 67.0 L284.5 69.3 L285.5 71.7 L286.5 74.0 L287.5 76.3 L288.5 78.7 L289.5 81.0 L290.5 83.3 L291.5 85.6 L292.5 87.9 L293.5 90.2 L294.5 92.4 L295.5 94.6 L296.5 96.8 L297.5 98.9 L298.5 101.0 L299.5 103.1 L300.5 105.1 L301.5 107.0 L302.5 108.9 L303.5 110.7 L304.5 112.5 L305.5 114.3 L306.5 116.0 L307.5 117.6 L308.5 119.2 L309.5 120.7 L310.5 122.2 L311.5 123.7 L312.5 125.1 L313.5 126.4 L314.5 127.8 L315.5 129.0 L316.5 130.3 L317.5 131.5 L318.5 132.6 L319.5 133.7 L320.5 134.8 L321.5 135.9 L322.5 136.9 L323.5 137.8 L324.5 138.8 L325.5 139.7 L326.5 140.5 L327.5 141.4 L328.5 142.2 L329.5 143.0 L330.5 143.7 L331.5 144.4 L332.5 145.1 L333.5 145.8 L334.5 146.4 L335.5 147.1 L336.5 147.7 L337.5 148.2 L338.5 148.8 L339.5 149.3 L340.5 149.9 L341.5 150.4 L342.5 150.8 L343.5 151.3 L344.5 151.8 L345.5 152.2 L346.5 152.6 L347.5 153.1 L348.5 153.5 L349.5 153.9 L350.5 154.3 L351.5 154.6 L352.5 155.0 L353.5 155.4 L354.5 155.7 L355.5 156.1 L356.5 156.4 L357.5 156.8 L358.5 157.1 L359.5 157.4 L360.5 157.8 L361.5 158.1 L362.5 158.4 L363.5 158.7 L364.5 159.0 L365.5 159.2 L366.5 159.5 L367.5 159.8 L368.5 160.1 L369.5 160.3 L370.5 160.6 L371.5 160.8 L372.5 161.1 L373.5 161.3 L374.5 161.6 L375.5 161.8 L376.5 162.0 L377.5 162.2 L378.5 162.4 L379.5 162.6 L380.5 162.9 L381.5 163.1 L382.5 163.3 L383.5 163.4 L384.5 163.6 L385.5 163.8 L386.5 164.0 L387.5 164.2 L388.5 164.3 L389.5 164.5 L390.5 164.7 L391.5 164.8 L392.5 165.0 L393.5 165.2 L394.5 165.3 L395.5 165.5 L396.5 165.6 L397.5 165.8 L398.5 165.9 L399.5 166.0 L400.5 166.2 L401.5 166.3 L402.5 166.5 L403.5 166.6 L404.5 166.7 L405.5 166.8 L406.5 167.0 L407.5 167.1 L408.5 167.2 L409.5 167.3 L410.5 167.5 L411.5 167.6 L412.5 167.7 L413.5 167.8 L414.5 167.9 L415.5 168.0 L416.5 168.1 L417.5 168.2 L418.5 168.3 L419.5 168.4 L420.5 168.6 L421.5 168.7 L422.5 168.7 L423.5 168.8 L424.5 168.9 L425.5 169.0 L426.5 169.1 L427.5 169.2 L428.5 169.3 L429.5 169.4 L430.5 169.5 L431.5 169.6 L432.5 169.6 L433.5 169.7 L434.5 169.8 L435.5 169.9 L436.5 169.9 L437.5 170.0 L438.5 170.1 L439.5 170.2 L440.5 170.2 L441.5 170.3 L442.5 170.4 L443.5 170.4 L444.5 170.5 L445.5 170.5 L446.5 170.6 L447.5 170.7 L448.5 170.7 L449.5 170.8 L450.5 170.8 L451.5 170.9 L452.5 170.9 L453.5 171.0 L454.5 171.0 L455.5 171.1 L456.5 171.1 L457.5 171.2 L458.5 171.2 L459.5 171.2 L460.5 171.3 L461.5 171.3 L462.5 171.4 L463.5 171.4 L464.5 171.4 L465.5 171.5 L466.5 171.5 L467.5 171.5 L468.5 171.6 L469.5 171.6 L470.5 171.6 L471.5 171.6 L472.5 171.7 L473.5 171.7 L474.5 171.7 L475.5 171.7 L476.5 171.8 L477.5 171.8 L478.5 171.8 L479.5 171.8 L480.5 171.8 L481.5 171.8 L482.5 171.9 L483.5 171.9 L484.5 171.9 L485.5 171.9 L486.5 171.9 L487.5 171.9 L488.5 171.9 L489.5 171.9 L490.5 171.9 L491.5 171.9 L492.5 171.9 L493.5 171.9 L494.5 171.9 L495.5 171.9 L496.5 171.9 L497.5 171.9 L498.5 171.9 L499.5 171.9 L500.5 171.9 L501.5 171.9 L502.5 171.9 L503.5 171.9 L504.5 171.9 L505.5 171.9 L506.5 171.9 L507.5 171.9 L508.5 171.9 L509.5 171.9 L510.5 171.9 L511.5 171.8 L512.5 171.8 L513.5 171.8 L514.5 171.8 L515.5 171.8 L516.5 171.8 L517.5 171.8 L518.5 171.7 L519.5 171.7 L520.5 171.7 L521.5 171.7 L522.5 171.7 L523.5 171.6 L524.5 171.6 L525.5 171.6 L526.5 171.6 L527.5 171.6 L528.5 171.5 L529.5 171.5 L530.5 171.5 L531.5 171.5 L532.5 171.4 L533.5 171.4 L534.5 171.4 L535.5 171.4 L536.5 171.3 L537.5 171.3 L538.5 171.3 L539.5 171.2 L540.5 171.2 L541.5 171.2 L542.5 171.2 L543.5 171.1 L544.5 171.1 L545.5 171.1 L546.5 171.0 L547.5 171.0 L548.5 171.0 L549.5 170.9 L550.5 170.9 L551.5 170.9 L552.5 170.8 L553.5 170.8 L554.5 170.8 L555.5 170.7 L556.5 170.7 L557.5 170.7 L558.5 170.6 L559.5 170.6 L560.5 170.6 L561.5 170.5 L562.5 170.5 L563.5 170.5 L564.5 170.4 L565.5 170.4 L566.5 170.4 L567.5 170.3 L568.5 170.3 L569.5 170.3 L570.5 170.2 L571.5 170.2 L572.5 170.1 L573.5 170.1 L574.5 170.1 L575.5 170.0 L576.5 170.0 L577.5 170.0 L578.5 169.9 L579.5 169.9 L580.5 169.9 L581.5 169.8 L582.5 169.8 L583.5 169.7 L584.5 169.7 L585.5 169.7 L586.5 169.6 L587.5 169.6 L588.5 169.6 L589.5 169.5 L590.5 169.5 L591.5 169.5 L592.5 169.4 L593.5 169.4 L594.5 169.4 L595.5 169.3 L596.5 169.3 L597.5 169.2 L598.5 169.2 L599.5 169.2 L600.5 169.1 L601.5 169.1 L602.5 169.1 L603.5 169.0 L604.5 169.0 L605.5 169.0 L606.5 168.9 L607.5 168.9 L608.5 168.9 L609.5 168.9 L610.5 168.8 L611.5 168.8 L612.5 168.8 L613.5 168.7 L614.5 168.7 L615.5 168.7 L616.5 168.7 L617.5 168.6 L618.5 168.6 L619.5 168.6 L620.5 168.5 L621.5 168.5 L622.5 168.5 L623.5 168.5 L624.5 168.4 L625.5 168.4 L626.5 168.4 L627.5 168.4 L628.5 168.4 L629.5 168.3 L630.5 168.3 L631.5 168.3 L632.5 168.3 L633.5 168.3 L634.5 168.2 L635.5 168.2 L636.5 168.2 L637.5 168.2 L638.5 168.2 L639.5 168.2 L640.5 168.1 L641.5 168.1 L642.5 168.1 L643.5 168.1 L644.5 168.1 L645.5 168.1 L646.5 168.1 L647.5 168.1 L648.5 168.0 L649.5 168.0 L650.5 168.0 L651.5 168.0 L652.5 168.0 L653.5 168.0 L654.5 168.0 L655.5 168.0 L656.5 168.0 L657.5 168.0 L658.5 168.0 L659.5 168.0 L660.5 168.0 L661.5 168.0 L662.5 168.0 L663.5 168.0 L664.5 168.0 L665.5 168.0 L666.5 168.0 L667.5 168.1 L668.5 168.1 L669.5 168.1" fill="none" stroke="#2a5a30" stroke-width="0.8" stroke-opacity="0.9"/>
<path d="M142.5 270.0 L143.5 269.9 L144.5 269.7 L145.5 269.5 L146.5 269.3 L147.5 269.1 L148.5 268.9 L149.5 268.6 L150.5 268.3 L151.5 268.1 L152.5 267.7 L153.5 267.4 L154.5 267.1 L155.5 266.7 L156.5 266.3 L157.5 265.9 L158.5 265.5 L159.5 265.0 L160.5 264.6 L161.5 264.1 L162.5 263.6 L163.5 263.0 L164.5 262.4 L165.5 261.8 L166.5 261.2 L167.5 260.5 L168.5 259.8 L169.5 259.1 L170.5 258.3 L171.5 257.5 L172.5 256.7 L173.5 255.8 L174.5 254.9 L175.5 253.9 L176.5 252.9 L177.5 251.9 L178.5 250.8 L179.5 249.7 L180.5 248.6 L181.5 247.4 L182.5 246.2 L183.5 244.9 L184.5 243.6 L185.5 242.3 L186.5 240.9 L187.5 239.5 L188.5 238.0 L189.5 236.4 L190.5 234.8 L191.5 233.1 L192.5 231.4 L193.5 229.5 L194.5 227.6 L195.5 225.6 L196.5 223.5 L197.5 221.3 L198.5 219.0 L199.5 216.7 L200.5 214.3 L201.5 211.9 L202.5 209.4 L203.5 206.8 L204.5 204.2 L205.5 201.5 L206.5 198.8 L207.5 196.0 L208.5 193.2 L209.5 190.4 L210.5 187.5 L211.5 184.6 L212.5 181.7 L213.5 178.7 L214.5 175.8 L215.5 172.8 L216.5 169.8 L217.5 166.8 L218.5 163.7 L219.5 160.7 L220.5 157.7 L221.5 154.7 L222.5 151.6 L223.5 148.6 L224.5 145.6 L225.5 142.6 L226.5 139.7 L227.5 136.7 L228.5 133.8 L229.5 131.0 L230.5 128.2 L231.5 125.4 L232.5 122.7 L233.5 120.1 L234.5 117.6 L235.5 115.2 L236.5 112.8 L237.5 110.6 L238.5 108.5 L239.5 106.5 L240.5 104.6 L241.5 102.9 L242.5 101.3 L243.5 99.8 L244.5 98.5 L245.5 97.3 L246.5 96.2 L247.5 95.2 L248.5 94.3 L249.5 93.6 L250.5 92.9 L251.5 92.4 L252.5 92.0 L253.5 91.6 L254.5 91.4 L255.5 91.3 L256.5 91.3 L257.5 91.4 L258.5 91.5 L259.5 91.8 L260.5 92.2 L261.5 92.6 L262.5 93.1 L263.5 93.7 L264.5 94.4 L265.5 95.1 L266.5 96.0 L267.5 96.9 L268.5 97.8 L269.5 98.8 L270.5 99.9 L271.5 101.1 L272.5 102.3 L273.5 103.5 L274.5 104.8 L275.5 106.1 L276.5 107.5 L277.5 108.9 L278.5 110.3 L279.5 111.8 L280.5 113.3 L281.5 114.9 L282.5 116.4 L283.5 118.0 L284.5 119.6 L285.5 121.1 L286.5 122.7 L287.5 124.3 L288.5 125.9 L289.5 127.5 L290.5 129.1 L291.5 130.7 L292.5 132.2 L293.5 133.8 L294.5 135.3 L295.5 136.8 L296.5 138.3 L297.5 139.7 L298.5 141.1 L299.5 142.5 L300.5 143.9 L301.5 145.2 L302.5 146.5 L303.5 147.8 L304.5 149.0 L305.5 150.2 L306.5 151.4 L307.5 152.5 L308.5 153.6 L309.5 154.7 L310.5 155.7 L311.5 156.7 L312.5 157.6 L313.5 158.5 L314.5 159.4 L315.5 160.2 L316.5 161.0 L317.5 161.7 L318.5 162.4 L319.5 163.1 L320.5 163.8 L321.5 164.4 L322.5 165.0 L323.5 165.5 L324.5 166.1 L325.5 166.6 L326.5 167.1 L327.5 167.6 L328.5 168.0 L329.5 168.5 L330.5 168.9 L331.5 169.3 L332.5 169.7 L333.5 170.1 L334.5 170.5 L335.5 170.8 L336.5 171.2 L337.5 171.5 L338.5 171.9 L339.5 172.2 L340.5 172.5 L341.5 172.8 L342.5 173.1 L343.5 173.5 L344.5 173.8 L345.5 174.1 L346.5 174.3 L347.5 174.6 L348.5 174.9 L349.5 175.2 L350.5 175.5 L351.5 175.7 L352.5 176.0 L353.5 176.3 L354.5 176.5 L355.5 176.8 L356.5 177.0 L357.5 177.2 L358.5 177.5 L359.5 177.7 L360.5 177.9 L361.5 178.1 L362.5 178.4 L363.5 178.6 L364.5 178.8 L365.5 179.0 L366.5 179.2 L367.5 179.4 L368.5 179.6 L369.5 179.8 L370.5 179.9 L371.5 180.1 L372.5 180.3 L373.5 180.5 L374.5 180.6 L375.5 180.8 L376.5 181.0 L377.5 181.1 L378.5 181.3 L379.5 181.4 L380.5 181.6 L381.5 181.7 L382.5 181.9 L383.5 182.0 L384.5 182.1 L385.5 182.3 L386.5 182.4 L387.5 182.5 L388.5 182.6 L389.5 182.7 L390.5 182.9 L391.5 183.0 L392.5 183.1 L393.5 183.2 L394.5 183.3 L395.5 183.4 L396.5 183.5 L397.5 183.6 L398.5 183.7 L399.5 183.8 L400.5 183.8 L401.5 183.9 L402.5 184.0 L403.5 184.1 L404.5 184.2 L405.5 184.3 L406.5 184.3 L407.5 184.4 L408.5 184.5 L409.5 184.5 L410.5 184.6 L411.5 184.7 L412.5 184.7 L413.5 184.8 L414.5 184.8 L415.5 184.9 L416.5 185.0 L417.5 185.0 L418.5 185.1 L419.5 185.1 L420.5 185.2 L421.5 185.2 L422.5 185.3 L423.5 185.3 L424.5 185.3 L425.5 185.4 L426.5 185.4 L427.5 185.5 L428.5 185.5 L429.5 185.5 L430.5 185.6 L431.5 185.6 L432.5 185.6 L433.5 185.7 L434.5 185.7 L435.5 185.7 L436.5 185.8 L437.5 185.8 L438.5 185.8 L439.5 185.9 L440.5 185.9 L441.5 185.9 L442.5 185.9 L443.5 186.0 L444.5 186.0 L445.5 186.0 L446.5 186.0 L447.5 186.0 L448.5 186.1 L449.5 186.1 L450.5 186.1 L451.5 186.1 L452.5 186.1 L453.5 186.2 L454.5 186.2 L455.5 186.2 L456.5 186.2 L457.5 186.2 L458.5 186.2 L459.5 186.2 L460.5 186.2 L461.5 186.2 L462.5 186.3 L463.5 186.3 L464.5 186.3 L465.5 186.3 L466.5 186.3 L467.5 186.3 L468.5 186.3 L469.5 186.3 L470.5 186.3 L471.5 186.3 L472.5 186.3 L473.5 186.3 L474.5 186.3 L475.5 186.3 L476.5 186.3 L477.5 186.3 L478.5 186.3 L479.5 186.3 L480.5 186.3 L481.5 186.3 L482.5 186.3 L483.5 186.3 L484.5 186.2 L485.5 186.2 L486.5 186.2 L487.5 186.2 L488.5 186.2 L489.5 186.2 L490.5 186.2 L491.5 186.2 L492.5 186.2 L493.5 186.1 L494.5 186.1 L495.5 186.1 L496.5 186.1 L497.5 186.1 L498.5 186.1 L499.5 186.1 L500.5 186.0 L501.5 186.0 L502.5 186.0 L503.5 186.0 L504.5 186.0 L505.5 185.9 L506.5 185.9 L507.5 185.9 L508.5 185.9 L509.5 185.9 L510.5 185.8 L511.5 185.8 L512.5 185.8 L513.5 185.8 L514.5 185.8 L515.5 185.7 L516.5 185.7 L517.5 185.7 L518.5 185.7 L519.5 185.6 L520.5 185.6 L521.5 185.6 L522.5 185.5 L523.5 185.5 L524.5 185.5 L525.5 185.5 L526.5 185.4 L527.5 185.4 L528.5 185.4 L529.5 185.4 L530.5 185.3 L531.5 185.3 L532.5 185.3 L533.5 185.2 L534.5 185.2 L535.5 185.2 L536.5 185.1 L537.5 185.1 L538.5 185.1 L539.5 185.0 L540.5 185.0 L541.5 185.0 L542.5 184.9 L543.5 184.9 L544.5 184.9 L545.5 184.8 L546.5 184.8 L547.5 184.8 L548.5 184.7 L549.5 184.7 L550.5 184.7 L551.5 184.6 L552.5 184.6 L553.5 184.6 L554.5 184.5 L555.5 184.5 L556.5 184.5 L557.5 184.4 L558.5 184.4 L559.5 184.4 L560.5 184.3 L561.5 184.3 L562.5 184.3 L563.5 184.2 L564.5 184.2 L565.5 184.1 L566.5 184.1 L567.5 184.1 L568.5 184.0 L569.5 184.0 L570.5 184.0 L571.5 183.9 L572.5 183.9 L573.5 183.9 L574.5 183.8 L575.5 183.8 L576.5 183.7 L577.5 183.7 L578.5 183.7 L579.5 183.6 L580.5 183.6 L581.5 183.6 L582.5 183.5 L583.5 183.5 L584.5 183.5 L585.5 183.4 L586.5 183.4 L587.5 183.3 L588.5 183.3 L589.5 183.3 L590.5 183.2 L591.5 183.2 L592.5 183.2 L593.5 183.1 L594.5 183.1 L595.5 183.1 L596.5 183.0 L597.5 183.0 L598.5 183.0 L599.5 182.9 L600.5 182.9 L601.5 182.9 L602.5 182.8 L603.5 182.8 L604.5 182.8 L605.5 182.7 L606.5 182.7 L607.5 182.7 L608.5 182.6 L609.5 182.6 L610.5 182.6 L611.5 182.5 L612.5 182.5 L613.5 182.5 L614.5 182.4 L615.5 182.4 L616.5 182.4 L617.5 182.3 L618.5 182.3 L619.5 182.3 L620.5 182.3 L621.5 182.2 L622.5 182.2 L623.5 182.2 L624.5 182.1 L625.5 182.1 L626.5 182.1 L627.5 182.1 L628.5 182.0 L629.5 182.0 L630.5 182.0 L631.5 182.0 L632.5 181.9 L633.5 181.9 L634.5 181.9 L635.5 181.9 L636.5 181.8 L637.5 181.8 L638.5 181.8 L639.5 181.8 L640.5 181.7 L641.5 181.7 L642.5 181.7 L643.5 181.7 L644.5 181.7 L645.5 181.6 L646.5 181.6 L647.5 181.6 L648.5 181.6 L649.5 181.6 L650.5 181.6 L651.5 181.5 L652.5 181.5 L653.5 181.5 L654.5 181.5 L655.5 181.5 L656.5 181.5 L657.5 181.5 L658.5 181.4 L659.5 181.4 L660.5 181.4 L661.5 181.4 L662.5 181.4 L663.5 181.4 L664.5 181.4 L665.5 181.4 L666.5 181.4 L667.5 181.4 L668.5 181.4 L669.5 181.4" fill="none" stroke="#7a2a55" stroke-width="0.8" stroke-opacity="0.9"/>
<path d="M142.5 271.9 L143.5 271.6 L144.5 271.2 L145.5 270.9 L146.5 270.5 L147.5 270.1 L148.5 269.7 L149.5 269.3 L150.5 268.9 L151.5 268.4 L152.5 268.0 L153.5 267.5 L154.5 267.1 L155.5 266.6 L156.5 266.1 L157.5 265.7 L158.5 265.2 L159.5 264.7 L160.5 264.2 L161.5 263.7 L162.5 263.1 L163.5 262.6 L164.5 262.0 L165.5 261.4 L166.5 260.8 L167.5 260.2 L168.5 259.6 L169.5 258.9 L170.5 258.2 L171.5 257.5 L172.5 256.7 L173.5 255.9 L174.5 255.1 L175.5 254.3 L176.5 253.4 L177.5 252.5 L178.5 251.6 L179.5 250.7 L180.5 249.7 L181.5 248.8 L182.5 247.9 L183.5 247.0 L184.5 246.0 L185.5 245.1 L186.5 244.2 L187.5 243.3 L188.5 242.4 L189.5 241.5 L190.5 240.5 L191.5 239.5 L192.5 238.4 L193.5 237.2 L194.5 236.0 L195.5 234.8 L196.5 233.5 L197.5 232.2 L198.5 230.8 L199.5 229.4 L200.5 227.9 L201.5 226.4 L202.5 224.9 L203.5 223.3 L204.5 221.8 L205.5 220.2 L206.5 218.5 L207.5 216.9 L208.5 215.2 L209.5 213.5 L210.5 211.8 L211.5 210.1 L212.5 208.4 L213.5 206.7 L214.5 204.9 L215.5 203.2 L216.5 201.5 L217.5 199.8 L218.5 198.0 L219.5 196.3 L220.5 194.6 L221.5 192.9 L222.5 191.2 L223.5 189.5 L224.5 187.8 L225.5 186.1 L226.5 184.5 L227.5 182.9 L228.5 181.2 L229.5 179.7 L230.5 178.1 L231.5 176.5 L232.5 175.0 L233.5 173.6 L234.5 172.1 L235.5 170.7 L236.5 169.4 L237.5 168.1 L238.5 166.8 L239.5 165.6 L240.5 164.5 L241.5 163.4 L242.5 162.4 L243.5 161.4 L244.5 160.6 L245.5 159.7 L246.5 159.0 L247.5 158.3 L248.5 157.7 L249.5 157.2 L250.5 156.7 L251.5 156.4 L252.5 156.1 L253.5 155.9 L254.5 155.8 L255.5 155.8 L256.5 155.8 L257.5 156.0 L258.5 156.1 L259.5 156.3 L260.5 156.6 L261.5 156.9 L262.5 157.3 L263.5 157.6 L264.5 158.1 L265.5 158.5 L266.5 158.9 L267.5 159.4 L268.5 159.9 L269.5 160.4 L270.5 160.9 L271.5 161.5 L272.5 162.0 L273.5 162.6 L274.5 163.2 L275.5 163.8 L276.5 164.4 L277.5 165.0 L278.5 165.7 L279.5 166.4 L280.5 167.1 L281.5 167.8 L282.5 168.6 L283.5 169.3 L284.5 170.1 L285.5 170.9 L286.5 171.7 L287.5 172.5 L288.5 173.3 L289.5 174.1 L290.5 174.9 L291.5 175.7 L292.5 176.5 L293.5 177.4 L294.5 178.1 L295.5 178.9 L296.5 179.7 L297.5 180.4 L298.5 181.2 L299.5 181.9 L300.5 182.5 L301.5 183.2 L302.5 183.8 L303.5 184.4 L304.5 185.0 L305.5 185.5 L306.5 186.1 L307.5 186.6 L308.5 187.1 L309.5 187.5 L310.5 188.0 L311.5 188.4 L312.5 188.8 L313.5 189.2 L314.5 189.6 L315.5 190.0 L316.5 190.3 L317.5 190.7 L318.5 191.0 L319.5 191.3 L320.5 191.6 L321.5 191.9 L322.5 192.2 L323.5 192.4 L324.5 192.7 L325.5 193.0 L326.5 193.2 L327.5 193.5 L328.5 193.7 L329.5 193.9 L330.5 194.1 L331.5 194.3 L332.5 194.6 L333.5 194.8 L334.5 195.0 L335.5 195.1 L336.5 195.3 L337.5 195.5 L338.5 195.7 L339.5 195.8 L340.5 196.0 L341.5 196.2 L342.5 196.3 L343.5 196.5 L344.5 196.6 L345.5 196.8 L346.5 196.9 L347.5 197.0 L348.5 197.1 L349.5 197.3 L350.5 197.4 L351.5 197.5 L352.5 197.6 L353.5 197.7 L354.5 197.8 L355.5 197.9 L356.5 198.0 L357.5 198.1 L358.5 198.2 L359.5 198.3 L360.5 198.4 L361.5 198.5 L362.5 198.6 L363.5 198.7 L364.5 198.8 L365.5 198.8 L366.5 198.9 L367.5 199.0 L368.5 199.1 L369.5 199.2 L370.5 199.2 L371.5 199.3 L372.5 199.4 L373.5 199.4 L374.5 199.5 L375.5 199.6 L376.5 199.7 L377.5 199.7 L378.5 199.8 L379.5 199.8 L380.5 199.9 L381.5 200.0 L382.5 200.0 L383.5 200.1 L384.5 200.1 L385.5 200.2 L386.5 200.3 L387.5 200.3 L388.5 200.4 L389.5 200.4 L390.5 200.5 L391.5 200.5 L392.5 200.6 L393.5 200.6 L394.5 200.7 L395.5 200.7 L396.5 200.7 L397.5 200.8 L398.5 200.8 L399.5 200.9 L400.5 200.9 L401.5 201.0 L402.5 201.0 L403.5 201.0 L404.5 201.1 L405.5 201.1 L406.5 201.1 L407.5 201.2 L408.5 201.2 L409.5 201.2 L410.5 201.3 L411.5 201.3 L412.5 201.3 L413.5 201.3 L414.5 201.4 L415.5 201.4 L416.5 201.4 L417.5 201.4 L418.5 201.5 L419.5 201.5 L420.5 201.5 L421.5 201.5 L422.5 201.5 L423.5 201.6 L424.5 201.6 L425.5 201.6 L426.5 201.6 L427.5 201.6 L428.5 201.6 L429.5 201.6 L430.5 201.6 L431.5 201.7 L432.5 201.7 L433.5 201.7 L434.5 201.7 L435.5 201.7 L436.5 201.7 L437.5 201.7 L438.5 201.7 L439.5 201.7 L440.5 201.7 L441.5 201.7 L442.5 201.7 L443.5 201.7 L444.5 201.7 L445.5 201.7 L446.5 201.7 L447.5 201.7 L448.5 201.7 L449.5 201.7 L450.5 201.7 L451.5 201.7 L452.5 201.7 L453.5 201.7 L454.5 201.7 L455.5 201.7 L456.5 201.7 L457.5 201.7 L458.5 201.6 L459.5 201.6 L460.5 201.6 L461.5 201.6 L462.5 201.6 L463.5 201.6 L464.5 201.6 L465.5 201.6 L466.5 201.5 L467.5 201.5 L468.5 201.5 L469.5 201.5 L470.5 201.5 L471.5 201.5 L472.5 201.5 L473.5 201.4 L474.5 201.4 L475.5 201.4 L476.5 201.4 L477.5 201.4 L478.5 201.3 L479.5 201.3 L480.5 201.3 L481.5 201.3 L482.5 201.2 L483.5 201.2 L484.5 201.2 L485.5 201.2 L486.5 201.1 L487.5 201.1 L488.5 201.1 L489.5 201.1 L490.5 201.0 L491.5 201.0 L492.5 201.0 L493.5 201.0 L494.5 200.9 L495.5 200.9 L496.5 200.9 L497.5 200.8 L498.5 200.8 L499.5 200.8 L500.5 200.7 L501.5 200.7 L502.5 200.7 L503.5 200.7 L504.5 200.6 L505.5 200.6 L506.5 200.6 L507.5 200.5 L508.5 200.5 L509.5 200.5 L510.5 200.4 L511.5 200.4 L512.5 200.3 L513.5 200.3 L514.5 200.3 L515.5 200.2 L516.5 200.2 L517.5 200.2 L518.5 200.1 L519.5 200.1 L520.5 200.1 L521.5 200.0 L522.5 200.0 L523.5 199.9 L524.5 199.9 L525.5 199.9 L526.5 199.8 L527.5 199.8 L528.5 199.7 L529.5 199.7 L530.5 199.7 L531.5 199.6 L532.5 199.6 L533.5 199.5 L534.5 199.5 L535.5 199.5 L536.5 199.4 L537.5 199.4 L538.5 199.3 L539.5 199.3 L540.5 199.2 L541.5 199.2 L542.5 199.2 L543.5 199.1 L544.5 199.1 L545.5 199.0 L546.5 199.0 L547.5 198.9 L548.5 198.9 L549.5 198.9 L550.5 198.8 L551.5 198.8 L552.5 198.7 L553.5 198.7 L554.5 198.6 L555.5 198.6 L556.5 198.6 L557.5 198.5 L558.5 198.5 L559.5 198.4 L560.5 198.4 L561.5 198.3 L562.5 198.3 L563.5 198.2 L564.5 198.2 L565.5 198.2 L566.5 198.1 L567.5 198.1 L568.5 198.0 L569.5 198.0 L570.5 197.9 L571.5 197.9 L572.5 197.8 L573.5 197.8 L574.5 197.7 L575.5 197.7 L576.5 197.7 L577.5 197.6 L578.5 197.6 L579.5 197.5 L580.5 197.5 L581.5 197.4 L582.5 197.4 L583.5 197.3 L584.5 197.3 L585.5 197.3 L586.5 197.2 L587.5 197.2 L588.5 197.1 L589.5 197.1 L590.5 197.0 L591.5 197.0 L592.5 196.9 L593.5 196.9 L594.5 196.9 L595.5 196.8 L596.5 196.8 L597.5 196.7 L598.5 196.7 L599.5 196.6 L600.5 196.6 L601.5 196.6 L602.5 196.5 L603.5 196.5 L604.5 196.4 L605.5 196.4 L606.5 196.4 L607.5 196.3 L608.5 196.3 L609.5 196.2 L610.5 196.2 L611.5 196.1 L612.5 196.1 L613.5 196.1 L614.5 196.0 L615.5 196.0 L616.5 196.0 L617.5 195.9 L618.5 195.9 L619.5 195.8 L620.5 195.8 L621.5 195.8 L622.5 195.7 L623.5 195.7 L624.5 195.6 L625.5 195.6 L626.5 195.6 L627.5 195.5 L628.5 195.5 L629.5 195.5 L630.5 195.4 L631.5 195.4 L632.5 195.4 L633.5 195.3 L634.5 195.3 L635.5 195.3 L636.5 195.2 L637.5 195.2 L638.5 195.2 L639.5 195.1 L640.5 195.1 L641.5 195.1 L642.5 195.0 L643.5 195.0 L644.5 195.0 L645.5 195.0 L646.5 194.9 L647.5 194.9 L648.5 194.9 L649.5 194.8 L650.5 194.8 L651.5 194.8 L652.5 194.8 L653.5 194.7 L654.5 194.7 L655.5 194.7 L656.5 194.7 L657.5 194.6 L658.5 194.6 L659.5 194.6 L660.5 194.6 L661.5 194.5 L662.5 194.5 L663.5 194.5 L664.5 194.5 L665.5 194.5 L666.5 194.4 L667.5 194.4 L668.5 194.4 L669.5 194.4" fill="none" stroke="#3d3d99" stroke-width="0.8" stroke-opacity="0.9"/>
<path d="M142.5 274.6 L143.5 274.0 L144.5 273.4 L145.5 272.8 L146.5 272.2 L147.5 271.6 L148.5 271.0 L149.5 270.4 L150.5 269.8 L151.5 269.2 L152.5 268.6 L153.5 268.0 L154.5 267.4 L155.5 266.8 L156.5 266.2 L157.5 265.6 L158.5 265.0 L159.5 264.4 L160.5 263.8 L161.5 263.2 L162.5 262.6 L163.5 262.0 L164.5 261.5 L165.5 260.9 L166.5 260.3 L167.5 259.7 L168.5 259.1 L169.5 258.5 L170.5 258.0 L171.5 257.4 L172.5 256.8 L173.5 256.2 L174.5 255.7 L175.5 255.1 L176.5 254.5 L177.5 253.9 L178.5 253.4 L179.5 252.8 L180.5 252.2 L181.5 251.7 L182.5 251.1 L183.5 250.5 L184.5 250.0 L185.5 249.4 L186.5 248.9 L187.5 248.3 L188.5 247.7 L189.5 247.2 L190.5 246.6 L191.5 246.1 L192.5 245.5 L193.5 244.9 L194.5 244.4 L195.5 243.8 L196.5 243.3 L197.5 242.7 L198.5 242.2 L199.5 241.6 L200.5 241.1 L201.5 240.6 L202.5 240.0 L203.5 239.5 L204.5 238.9 L205.5 238.4 L206.5 237.9 L207.5 237.3 L208.5 236.8 L209.5 236.3 L210.5 235.8 L211.5 235.3 L212.5 234.8 L213.5 234.3 L214.5 233.8 L215.5 233.3 L216.5 232.8 L217.5 232.3 L218.5 231.9 L219.5 231.4 L220.5 230.9 L221.5 230.5 L222.5 230.1 L223.5 229.6 L224.5 229.2 L225.5 228.8 L226.5 228.4 L227.5 228.0 L228.5 227.6 L229.5 227.2 L230.5 226.9 L231.5 226.5 L232.5 226.2 L233.5 225.8 L234.5 225.5 L235.5 225.2 L236.5 224.9 L237.5 224.6 L238.5 224.4 L239.5 224.1 L240.5 223.9 L241.5 223.6 L242.5 223.4 L243.5 223.2 L244.5 223.0 L245.5 222.8 L246.5 222.6 L247.5 222.4 L248.5 222.3 L249.5 222.1 L250.5 222.0 L251.5 221.8 L252.5 221.7 L253.5 221.6 L254.5 221.5 L255.5 221.4 L256.5 221.3 L257.5 221.2 L258.5 221.1 L259.5 221.0 L260.5 221.0 L261.5 220.9 L262.5 220.9 L263.5 220.8 L264.5 220.8 L265.5 220.7 L266.5 220.7 L267.5 220.7 L268.5 220.6 L269.5 220.6 L270.5 220.6 L271.5 220.6 L272.5 220.6 L273.5 220.6 L274.5 220.5 L275.5 220.5 L276.5 220.5 L277.5 220.5 L278.5 220.5 L279.5 220.5 L280.5 220.6 L281.5 220.6 L282.5 220.6 L283.5 220.6 L284.5 220.6 L285.5 220.6 L286.5 220.6 L287.5 220.6 L288.5 220.6 L289.5 220.7 L290.5 220.7 L291.5 220.7 L292.5 220.7 L293.5 220.7 L294.5 220.7 L295.5 220.7 L296.5 220.7 L297.5 220.8 L298.5 220.8 L299.5 220.8 L300.5 220.8 L301.5 220.8 L302.5 220.8 L303.5 220.8 L304.5 220.8 L305.5 220.8 L306.5 220.8 L307.5 220.8 L308.5 220.8 L309.5 220.7 L310.5 220.7 L311.5 220.7 L312.5 220.7 L313.5 220.7 L314.5 220.6 L315.5 220.6 L316.5 220.6 L317.5 220.5 L318.5 220.5 L319.5 220.4 L320.5 220.4 L321.5 220.3 L322.5 220.3 L323.5 220.2 L324.5 220.2 L325.5 220.1 L326.5 220.0 L327.5 220.0 L328.5 219.9 L329.5 219.9 L330.5 219.8 L331.5 219.7 L332.5 219.7 L333.5 219.6 L334.5 219.5 L335.5 219.5 L336.5 219.4 L337.5 219.3 L338.5 219.3 L339.5 219.2 L340.5 219.2 L341.5 219.1 L342.5 219.0 L343.5 219.0 L344.5 218.9 L345.5 218.9 L346.5 218.8 L347.5 218.8 L348.5 218.7 L349.5 218.7 L350.5 218.6 L351.5 218.6 L352.5 218.5 L353.5 218.5 L354.5 218.5 L355.5 218.4 L356.5 218.4 L357.5 218.3 L358.5 218.3 L359.5 218.3 L360.5 218.2 L361.5 218.2 L362.5 218.2 L363.5 218.2 L364.5 218.1 L365.5 218.1 L366.5 218.1 L367.5 218.1 L368.5 218.1 L369.5 218.0 L370.5 218.0 L371.5 218.0 L372.5 218.0 L373.5 218.0 L374.5 218.0 L375.5 218.0 L376.5 218.0 L377.5 218.0 L378.5 218.0 L379.5 218.0 L380.5 218.0 L381.5 218.0 L382.5 218.0 L383.5 218.0 L384.5 218.1 L385.5 218.1 L386.5 218.1 L387.5 218.1 L388.5 218.1 L389.5 218.1 L390.5 218.2 L391.5 218.2 L392.5 218.2 L393.5 218.2 L394.5 218.2 L395.5 218.3 L396.5 218.3 L397.5 218.3 L398.5 218.3 L399.5 218.3 L400.5 218.4 L401.5 218.4 L402.5 218.4 L403.5 218.4 L404.5 218.4 L405.5 218.5 L406.5 218.5 L407.5 218.5 L408.5 218.5 L409.5 218.5 L410.5 218.5 L411.5 218.5 L412.5 218.6 L413.5 218.6 L414.5 218.6 L415.5 218.6 L416.5 218.6 L417.5 218.6 L418.5 218.6 L419.5 218.6 L420.5 218.5 L421.5 218.5 L422.5 218.5 L423.5 218.5 L424.5 218.5 L425.5 218.5 L426.5 218.5 L427.5 218.4 L428.5 218.4 L429.5 218.4 L430.5 218.4 L431.5 218.3 L432.5 218.3 L433.5 218.3 L434.5 218.2 L435.5 218.2 L436.5 218.2 L437.5 218.1 L438.5 218.1 L439.5 218.1 L440.5 218.0 L441.5 218.0 L442.5 217.9 L443.5 217.9 L444.5 217.8 L445.5 217.8 L446.5 217.8 L447.5 217.7 L448.5 217.7 L449.5 217.6 L450.5 217.6 L451.5 217.5 L452.5 217.5 L453.5 217.4 L454.5 217.4 L455.5 217.3 L456.5 217.3 L457.5 217.2 L458.5 217.2 L459.5 217.1 L460.5 217.1 L461.5 217.0 L462.5 217.0 L463.5 216.9 L464.5 216.9 L465.5 216.8 L466.5 216.8 L467.5 216.7 L468.5 216.6 L469.5 216.6 L470.5 216.5 L471.5 216.5 L472.5 216.4 L473.5 216.4 L474.5 216.3 L475.5 216.3 L476.5 216.2 L477.5 216.2 L478.5 216.1 L479.5 216.1 L480.5 216.0 L481.5 216.0 L482.5 215.9 L483.5 215.9 L484.5 215.8 L485.5 215.8 L486.5 215.7 L487.5 215.7 L488.5 215.7 L489.5 215.6 L490.5 215.6 L491.5 215.5 L492.5 215.5 L493.5 215.4 L494.5 215.4 L495.5 215.3 L496.5 215.3 L497.5 215.2 L498.5 215.2 L499.5 215.1 L500.5 215.1 L501.5 215.0 L502.5 215.0 L503.5 214.9 L504.5 214.9 L505.5 214.8 L506.5 214.8 L507.5 214.7 L508.5 214.7 L509.5 214.7 L510.5 214.6 L511.5 214.6 L512.5 214.5 L513.5 214.5 L514.5 214.4 L515.5 214.4 L516.5 214.3 L517.5 214.3 L518.5 214.2 L519.5 214.2 L520.5 214.1 L521.5 214.1 L522.5 214.1 L523.5 214.0 L524.5 214.0 L525.5 213.9 L526.5 213.9 L527.5 213.8 L528.5 213.8 L529.5 213.7 L530.5 213.7 L531.5 213.7 L532.5 213.6 L533.5 213.6 L534.5 213.5 L535.5 213.5 L536.5 213.4 L537.5 213.4 L538.5 213.3 L539.5 213.3 L540.5 213.3 L541.5 213.2 L542.5 213.2 L543.5 213.1 L544.5 213.1 L545.5 213.0 L546.5 213.0 L547.5 212.9 L548.5 212.9 L549.5 212.9 L550.5 212.8 L551.5 212.8 L552.5 212.7 L553.5 212.7 L554.5 212.6 L555.5 212.6 L556.5 212.6 L557.5 212.5 L558.5 212.5 L559.5 212.4 L560.5 212.4 L561.5 212.3 L562.5 212.3 L563.5 212.3 L564.5 212.2 L565.5 212.2 L566.5 212.1 L567.5 212.1 L568.5 212.0 L569.5 212.0 L570.5 212.0 L571.5 211.9 L572.5 211.9 L573.5 211.8 L574.5 211.8 L575.5 211.7 L576.5 211.7 L577.5 211.7 L578.5 211.6 L579.5 211.6 L580.5 211.5 L581.5 211.5 L582.5 211.4 L583.5 211.4 L584.5 211.4 L585.5 211.3 L586.5 211.3 L587.5 211.2 L588.5 211.2 L589.5 211.2 L590.5 211.1 L591.5 211.1 L592.5 211.0 L593.5 211.0 L594.5 210.9 L595.5 210.9 L596.5 210.9 L597.5 210.8 L598.5 210.8 L599.5 210.7 L600.5 210.7 L601.5 210.6 L602.5 210.6 L603.5 210.6 L604.5 210.5 L605.5 210.5 L606.5 210.4 L607.5 210.4 L608.5 210.3 L609.5 210.3 L610.5 210.3 L611.5 210.2 L612.5 210.2 L613.5 210.1 L614.5 210.1 L615.5 210.1 L616.5 210.0 L617.5 210.0 L618.5 209.9 L619.5 209.9 L620.5 209.8 L621.5 209.8 L622.5 209.8 L623.5 209.7 L624.5 209.7 L625.5 209.6 L626.5 209.6 L627.5 209.5 L628.5 209.5 L629.5 209.5 L630.5 209.4 L631.5 209.4 L632.5 209.3 L633.5 209.3 L634.5 209.2 L635.5 209.2 L636.5 209.2 L637.5 209.1 L638.5 209.1 L639.5 209.0 L640.5 209.0 L641.5 208.9 L642.5 208.9 L643.5 208.9 L644.5 208.8 L645.5 208.8 L646.5 208.7 L647.5 208.7 L648.5 208.6 L649.5 208.6 L650.5 208.5 L651.5 208.5 L652.5 208.5 L653.5 208.4 L654.5 208.4 L655.5 208.3 L656.5 208.3 L657.5 208.2 L658.5 208.2 L659.5 208.2 L660.5 208.1 L661.5 208.1 L662.5 208.0 L663.5 208.0 L664.5 207.9 L665.5 207.9 L666.5 207.8 L667.5 207.8 L668.5 207.8 L669.5 207.7" fill="none" stroke="#99772e" stroke-width="0.8" stroke-opacity="0.9"/>
<line x1="142.0" x2="669.7" y1="156.07" y2="156.07" stroke="#993d6f" stroke-width="1" stroke-opacity="0.8"/>
<line x1="142.0" x2="669.7" y1="216.67" y2="216.67" stroke="#3d3d99" stroke-width="1" stroke-opacity="0.9"/>
</g>
<path d="M142.50 334.5 v-5.8 M142.50 31.5 v5.8 M168.85 334.5 v-3.5 M168.85 31.5 v3.5 M195.20 334.5 v-3.5 M195.20 31.5 v3.5 M221.55 334.5 v-3.5 M221.55 31.5 v3.5 M247.90 334.5 v-3.5 M247.90 31.5 v3.5 M274.25 334.5 v-5.8 M274.25 31.5 v5.8 M300.60 334.5 v-3.5 M300.60 31.5 v3.5 M326.95 334.5 v-3.5 M326.95 31.5 v3.5 M353.30 334.5 v-3.5 M353.30 31.5 v3.5 M379.65 334.5 v-3.5 M379.65 31.5 v3.5 M406.00 334.5 v-5.8 M406.00 31.5 v5.8 M432.35 334.5 v-3.5 M432.35 31.5 v3.5 M458.70 334.5 v-3.5 M458.70 31.5 v3.5 M485.05 334.5 v-3.5 M485.05 31.5 v3.5 M511.40 334.5 v-3.5 M511.40 31.5 v3.5 M537.75 334.5 v-5.8 M537.75 31.5 v5.8 M564.10 334.5 v-3.5 M564.10 31.5 v3.5 M590.45 334.5 v-3.5 M590.45 31.5 v3.5 M616.80 334.5 v-3.5 M616.80 31.5 v3.5 M643.15 334.5 v-3.5 M643.15 31.5 v3.5 M669.50 334.5 v-5.8 M669.50 31.5 v5.8 M131.5 334.50 h6.2 M680.5 334.50 h-6.2 M131.5 317.67 h3.7 M680.5 317.67 h-3.7 M131.5 300.83 h3.7 M680.5 300.83 h-3.7 M131.5 284.00 h3.7 M680.5 284.00 h-3.7 M131.5 267.17 h6.2 M680.5 267.17 h-6.2 M131.5 250.33 h3.7 M680.5 250.33 h-3.7 M131.5 233.50 h3.7 M680.5 233.50 h-3.7 M131.5 216.67 h3.7 M680.5 216.67 h-3.7 M131.5 199.83 h6.2 M680.5 199.83 h-6.2 M131.5 183.00 h3.7 M680.5 183.00 h-3.7 M131.5 166.17 h3.7 M680.5 166.17 h-3.7 M131.5 149.33 h3.7 M680.5 149.33 h-3.7 M131.5 132.50 h6.2 M680.5 132.50 h-6.2 M131.5 115.67 h3.7 M680.5 115.67 h-3.7 M131.5 98.83 h3.7 M680.5 98.83 h-3.7 M131.5 82.00 h3.7 M680.5 82.00 h-3.7 M131.5 65.17 h6.2 M680.5 65.17 h-6.2 M131.5 48.33 h3.7 M680.5 48.33 h-3.7 M131.5 31.50 h3.7 M680.5 31.50 h-3.7" stroke="#787878" stroke-width="0.9" fill="none"/>
<rect x="131.5" y="31.5" width="549.0" height="303.0" fill="none" stroke="#909090" stroke-width="1.1"/>
<text transform="translate(127.7 342.0) scale(1.06 1)" text-anchor="end" class="tk">0</text>
<text transform="translate(127.7 274.7) scale(1.06 1)" text-anchor="end" class="tk">20</text>
<text transform="translate(127.7 207.3) scale(1.06 1)" text-anchor="end" class="tk">40</text>
<text transform="translate(127.7 140.0) scale(1.06 1)" text-anchor="end" class="tk">60</text>
<text transform="translate(127.7 72.7) scale(1.06 1)" text-anchor="end" class="tk">80</text>
<text transform="translate(142.5 358.4) scale(1.06 1)" text-anchor="middle" class="tk">0.000</text>
<text transform="translate(274.2 358.4) scale(1.06 1)" text-anchor="middle" class="tk">0.005</text>
<text transform="translate(406.0 358.4) scale(1.06 1)" text-anchor="middle" class="tk">0.010</text>
<text transform="translate(537.8 358.4) scale(1.06 1)" text-anchor="middle" class="tk">0.015</text>
<text transform="translate(669.5 358.4) scale(1.06 1)" text-anchor="middle" class="tk">0.020</text>
<text x="406.1" y="24.3" text-anchor="middle" class="tt">(a)</text>
<text transform="translate(390.6 390.6) scale(1.2 1)" font-size="24" font-style="italic">m</text>
<text x="410.9" y="394.3" font-size="17">1</text>
<text transform="translate(85.2 198.1) rotate(-90) scale(0.88 1)" font-style="italic" font-size="27.5">θ</text>
<text transform="translate(89.0 186.9) rotate(-90) scale(1 1.22)" font-size="17.5">23</text>
<clipPath id="c2"><rect x="131.5" y="446.0" width="549.0" height="302.5"/></clipPath>
<g clip-path="url(#c2)">
<path d="M142.5 505.8 L143.5 506.4 L144.5 507.0 L145.5 507.6 L146.5 508.2 L147.5 508.8 L148.5 509.4 L149.5 510.0 L150.5 510.6 L151.5 511.2 L152.5 511.8 L153.5 512.4 L154.5 513.0 L155.5 513.6 L156.5 514.2 L157.5 514.8 L158.5 515.4 L159.5 516.0 L160.5 516.6 L161.5 517.2 L162.5 517.7 L163.5 518.3 L164.5 518.9 L165.5 519.5 L166.5 520.1 L167.5 520.7 L168.5 521.2 L169.5 521.8 L170.5 522.4 L171.5 523.0 L172.5 523.6 L173.5 524.1 L174.5 524.7 L175.5 525.3 L176.5 525.9 L177.5 526.4 L178.5 527.0 L179.5 527.6 L180.5 528.1 L181.5 528.7 L182.5 529.3 L183.5 529.8 L184.5 530.4 L185.5 530.9 L186.5 531.5 L187.5 532.1 L188.5 532.6 L189.5 533.2 L190.5 533.7 L191.5 534.3 L192.5 534.8 L193.5 535.4 L194.5 536.0 L195.5 536.5 L196.5 537.1 L197.5 537.6 L198.5 538.2 L199.5 538.7 L200.5 539.2 L201.5 539.8 L202.5 540.3 L203.5 540.9 L204.5 541.4 L205.5 541.9 L206.5 542.5 L207.5 543.0 L208.5 543.5 L209.5 544.0 L210.5 544.6 L211.5 545.1 L212.5 545.6 L213.5 546.1 L214.5 546.6 L215.5 547.0 L216.5 547.5 L217.5 548.0 L218.5 548.5 L219.5 548.9 L220.5 549.4 L221.5 549.8 L222.5 550.3 L223.5 550.7 L224.5 551.1 L225.5 551.5 L226.5 551.9 L227.5 552.3 L228.5 552.7 L229.5 553.1 L230.5 553.4 L231.5 553.8 L232.5 554.1 L233.5 554.5 L234.5 554.8 L235.5 555.1 L236.5 555.4 L237.5 555.7 L238.5 555.9 L239.5 556.2 L240.5 556.5 L241.5 556.7 L242.5 556.9 L243.5 557.1 L244.5 557.3 L245.5 557.5 L246.5 557.7 L247.5 557.9 L248.5 558.0 L249.5 558.2 L250.5 558.3 L251.5 558.5 L252.5 558.6 L253.5 558.7 L254.5 558.8 L255.5 558.9 L256.5 559.0 L257.5 559.1 L258.5 559.2 L259.5 559.3 L260.5 559.3 L261.5 559.4 L262.5 559.5 L263.5 559.5 L264.5 559.6 L265.5 559.6 L266.5 559.6 L267.5 559.7 L268.5 559.7 L269.5 559.7 L270.5 559.7 L271.5 559.7 L272.5 559.8 L273.5 559.8 L274.5 559.8 L275.5 559.8 L276.5 559.8 L277.5 559.8 L278.5 559.8 L279.5 559.8 L280.5 559.8 L281.5 559.8 L282.5 559.7 L283.5 559.7 L284.5 559.7 L285.5 559.7 L286.5 559.7 L287.5 559.7 L288.5 559.7 L289.5 559.7 L290.5 559.6 L291.5 559.6 L292.5 559.6 L293.5 559.6 L294.5 559.6 L295.5 559.6 L296.5 559.6 L297.5 559.6 L298.5 559.6 L299.5 559.5 L300.5 559.5 L301.5 559.5 L302.5 559.5 L303.5 559.5 L304.5 559.5 L305.5 559.5 L306.5 559.5 L307.5 559.5 L308.5 559.6 L309.5 559.6 L310.5 559.6 L311.5 559.6 L312.5 559.6 L313.5 559.7 L314.5 559.7 L315.5 559.7 L316.5 559.7 L317.5 559.8 L318.5 559.8 L319.5 559.9 L320.5 559.9 L321.5 560.0 L322.5 560.0 L323.5 560.1 L324.5 560.1 L325.5 560.2 L326.5 560.3 L327.5 560.3 L328.5 560.4 L329.5 560.5 L330.5 560.5 L331.5 560.6 L332.5 560.6 L333.5 560.7 L334.5 560.8 L335.5 560.8 L336.5 560.9 L337.5 561.0 L338.5 561.0 L339.5 561.1 L340.5 561.2 L341.5 561.2 L342.5 561.3 L343.5 561.3 L344.5 561.4 L345.5 561.4 L346.5 561.5 L347.5 561.5 L348.5 561.6 L349.5 561.6 L350.5 561.7 L351.5 561.7 L352.5 561.8 L353.5 561.8 L354.5 561.9 L355.5 561.9 L356.5 561.9 L357.5 562.0 L358.5 562.0 L359.5 562.0 L360.5 562.1 L361.5 562.1 L362.5 562.1 L363.5 562.1 L364.5 562.2 L365.5 562.2 L366.5 562.2 L367.5 562.2 L368.5 562.2 L369.5 562.3 L370.5 562.3 L371.5 562.3 L372.5 562.3 L373.5 562.3 L374.5 562.3 L375.5 562.3 L376.5 562.3 L377.5 562.3 L378.5 562.3 L379.5 562.3 L380.5 562.3 L381.5 562.3 L382.5 562.3 L383.5 562.3 L384.5 562.3 L385.5 562.2 L386.5 562.2 L387.5 562.2 L388.5 562.2 L389.5 562.2 L390.5 562.2 L391.5 562.1 L392.5 562.1 L393.5 562.1 L394.5 562.1 L395.5 562.0 L396.5 562.0 L397.5 562.0 L398.5 562.0 L399.5 562.0 L400.5 561.9 L401.5 561.9 L402.5 561.9 L403.5 561.9 L404.5 561.9 L405.5 561.8 L406.5 561.8 L407.5 561.8 L408.5 561.8 L409.5 561.8 L410.5 561.8 L411.5 561.8 L412.5 561.8 L413.5 561.8 L414.5 561.7 L415.5 561.7 L416.5 561.7 L417.5 561.7 L418.5 561.7 L419.5 561.8 L420.5 561.8 L421.5 561.8 L422.5 561.8 L423.5 561.8 L424.5 561.8 L425.5 561.8 L426.5 561.9 L427.5 561.9 L428.5 561.9 L429.5 561.9 L430.5 561.9 L431.5 562.0 L432.5 562.0 L433.5 562.0 L434.5 562.1 L435.5 562.1 L436.5 562.1 L437.5 562.2 L438.5 562.2 L439.5 562.3 L440.5 562.3 L441.5 562.3 L442.5 562.4 L443.5 562.4 L444.5 562.5 L445.5 562.5 L446.5 562.6 L447.5 562.6 L448.5 562.6 L449.5 562.7 L450.5 562.7 L451.5 562.8 L452.5 562.8 L453.5 562.9 L454.5 562.9 L455.5 563.0 L456.5 563.0 L457.5 563.1 L458.5 563.1 L459.5 563.2 L460.5 563.2 L461.5 563.3 L462.5 563.3 L463.5 563.4 L464.5 563.5 L465.5 563.5 L466.5 563.6 L467.5 563.6 L468.5 563.7 L469.5 563.7 L470.5 563.8 L471.5 563.8 L472.5 563.9 L473.5 563.9 L474.5 564.0 L475.5 564.0 L476.5 564.1 L477.5 564.1 L478.5 564.2 L479.5 564.2 L480.5 564.3 L481.5 564.3 L482.5 564.4 L483.5 564.4 L484.5 564.5 L485.5 564.5 L486.5 564.6 L487.5 564.6 L488.5 564.7 L489.5 564.7 L490.5 564.8 L491.5 564.8 L492.5 564.8 L493.5 564.9 L494.5 564.9 L495.5 565.0 L496.5 565.0 L497.5 565.1 L498.5 565.1 L499.5 565.2 L500.5 565.2 L501.5 565.3 L502.5 565.3 L503.5 565.4 L504.5 565.4 L505.5 565.5 L506.5 565.5 L507.5 565.6 L508.5 565.6 L509.5 565.6 L510.5 565.7 L511.5 565.7 L512.5 565.8 L513.5 565.8 L514.5 565.9 L515.5 565.9 L516.5 566.0 L517.5 566.0 L518.5 566.1 L519.5 566.1 L520.5 566.2 L521.5 566.2 L522.5 566.2 L523.5 566.3 L524.5 566.3 L525.5 566.4 L526.5 566.4 L527.5 566.5 L528.5 566.5 L529.5 566.6 L530.5 566.6 L531.5 566.6 L532.5 566.7 L533.5 566.7 L534.5 566.8 L535.5 566.8 L536.5 566.9 L537.5 566.9 L538.5 567.0 L539.5 567.0 L540.5 567.0 L541.5 567.1 L542.5 567.1 L543.5 567.2 L544.5 567.2 L545.5 567.3 L546.5 567.3 L547.5 567.4 L548.5 567.4 L549.5 567.4 L550.5 567.5 L551.5 567.5 L552.5 567.6 L553.5 567.6 L554.5 567.7 L555.5 567.7 L556.5 567.7 L557.5 567.8 L558.5 567.8 L559.5 567.9 L560.5 567.9 L561.5 568.0 L562.5 568.0 L563.5 568.0 L564.5 568.1 L565.5 568.1 L566.5 568.2 L567.5 568.2 L568.5 568.3 L569.5 568.3 L570.5 568.3 L571.5 568.4 L572.5 568.4 L573.5 568.5 L574.5 568.5 L575.5 568.6 L576.5 568.6 L577.5 568.6 L578.5 568.7 L579.5 568.7 L580.5 568.8 L581.5 568.8 L582.5 568.8 L583.5 568.9 L584.5 568.9 L585.5 569.0 L586.5 569.0 L587.5 569.1 L588.5 569.1 L589.5 569.1 L590.5 569.2 L591.5 569.2 L592.5 569.3 L593.5 569.3 L594.5 569.4 L595.5 569.4 L596.5 569.4 L597.5 569.5 L598.5 569.5 L599.5 569.6 L600.5 569.6 L601.5 569.7 L602.5 569.7 L603.5 569.7 L604.5 569.8 L605.5 569.8 L606.5 569.9 L607.5 569.9 L608.5 569.9 L609.5 570.0 L610.5 570.0 L611.5 570.1 L612.5 570.1 L613.5 570.2 L614.5 570.2 L615.5 570.2 L616.5 570.3 L617.5 570.3 L618.5 570.4 L619.5 570.4 L620.5 570.5 L621.5 570.5 L622.5 570.5 L623.5 570.6 L624.5 570.6 L625.5 570.7 L626.5 570.7 L627.5 570.8 L628.5 570.8 L629.5 570.8 L630.5 570.9 L631.5 570.9 L632.5 571.0 L633.5 571.0 L634.5 571.1 L635.5 571.1 L636.5 571.1 L637.5 571.2 L638.5 571.2 L639.5 571.3 L640.5 571.3 L641.5 571.4 L642.5 571.4 L643.5 571.4 L644.5 571.5 L645.5 571.5 L646.5 571.6 L647.5 571.6 L648.5 571.7 L649.5 571.7 L650.5 571.7 L651.5 571.8 L652.5 571.8 L653.5 571.9 L654.5 571.9 L655.5 572.0 L656.5 572.0 L657.5 572.1 L658.5 572.1 L659.5 572.1 L660.5 572.2 L661.5 572.2 L662.5 572.3 L663.5 572.3 L664.5 572.4 L665.5 572.4 L666.5 572.5 L667.5 572.5 L668.5 572.5 L669.5 572.6 L669.5 612.2 L668.5 612.2 L667.5 612.2 L666.5 612.2 L665.5 612.2 L664.5 612.2 L663.5 612.2 L662.5 612.2 L661.5 612.2 L660.5 612.2 L659.5 612.2 L658.5 612.2 L657.5 612.2 L656.5 612.2 L655.5 612.2 L654.5 612.2 L653.5 612.2 L652.5 612.2 L651.5 612.2 L650.5 612.2 L649.5 612.2 L648.5 612.2 L647.5 612.2 L646.5 612.2 L645.5 612.2 L644.5 612.1 L643.5 612.1 L642.5 612.1 L641.5 612.1 L640.5 612.1 L639.5 612.1 L638.5 612.1 L637.5 612.0 L636.5 612.0 L635.5 612.0 L634.5 612.0 L633.5 612.0 L632.5 612.0 L631.5 611.9 L630.5 611.9 L629.5 611.9 L628.5 611.9 L627.5 611.9 L626.5 611.8 L625.5 611.8 L624.5 611.8 L623.5 611.8 L622.5 611.7 L621.5 611.7 L620.5 611.7 L619.5 611.7 L618.5 611.6 L617.5 611.6 L616.5 611.6 L615.5 611.5 L614.5 611.5 L613.5 611.5 L612.5 611.5 L611.5 611.4 L610.5 611.4 L609.5 611.4 L608.5 611.3 L607.5 611.3 L606.5 611.3 L605.5 611.2 L604.5 611.2 L603.5 611.2 L602.5 611.1 L601.5 611.1 L600.5 611.1 L599.5 611.0 L598.5 611.0 L597.5 611.0 L596.5 610.9 L595.5 610.9 L594.5 610.9 L593.5 610.8 L592.5 610.8 L591.5 610.8 L590.5 610.7 L589.5 610.7 L588.5 610.7 L587.5 610.6 L586.5 610.6 L585.5 610.6 L584.5 610.5 L583.5 610.5 L582.5 610.5 L581.5 610.4 L580.5 610.4 L579.5 610.3 L578.5 610.3 L577.5 610.3 L576.5 610.2 L575.5 610.2 L574.5 610.2 L573.5 610.1 L572.5 610.1 L571.5 610.1 L570.5 610.0 L569.5 610.0 L568.5 609.9 L567.5 609.9 L566.5 609.9 L565.5 609.8 L564.5 609.8 L563.5 609.8 L562.5 609.7 L561.5 609.7 L560.5 609.7 L559.5 609.6 L558.5 609.6 L557.5 609.6 L556.5 609.5 L555.5 609.5 L554.5 609.5 L553.5 609.4 L552.5 609.4 L551.5 609.4 L550.5 609.3 L549.5 609.3 L548.5 609.3 L547.5 609.2 L546.5 609.2 L545.5 609.2 L544.5 609.1 L543.5 609.1 L542.5 609.1 L541.5 609.0 L540.5 609.0 L539.5 609.0 L538.5 609.0 L537.5 608.9 L536.5 608.9 L535.5 608.9 L534.5 608.8 L533.5 608.8 L532.5 608.8 L531.5 608.8 L530.5 608.7 L529.5 608.7 L528.5 608.7 L527.5 608.7 L526.5 608.7 L525.5 608.6 L524.5 608.6 L523.5 608.6 L522.5 608.6 L521.5 608.5 L520.5 608.5 L519.5 608.5 L518.5 608.5 L517.5 608.5 L516.5 608.5 L515.5 608.4 L514.5 608.4 L513.5 608.4 L512.5 608.4 L511.5 608.4 L510.5 608.4 L509.5 608.4 L508.5 608.4 L507.5 608.3 L506.5 608.3 L505.5 608.3 L504.5 608.3 L503.5 608.3 L502.5 608.3 L501.5 608.3 L500.5 608.3 L499.5 608.3 L498.5 608.3 L497.5 608.3 L496.5 608.3 L495.5 608.3 L494.5 608.3 L493.5 608.3 L492.5 608.3 L491.5 608.3 L490.5 608.3 L489.5 608.3 L488.5 608.3 L487.5 608.3 L486.5 608.3 L485.5 608.3 L484.5 608.4 L483.5 608.4 L482.5 608.4 L481.5 608.4 L480.5 608.4 L479.5 608.4 L478.5 608.4 L477.5 608.5 L476.5 608.5 L475.5 608.5 L474.5 608.5 L473.5 608.5 L472.5 608.6 L471.5 608.6 L470.5 608.6 L469.5 608.6 L468.5 608.7 L467.5 608.7 L466.5 608.7 L465.5 608.8 L464.5 608.8 L463.5 608.8 L462.5 608.9 L461.5 608.9 L460.5 608.9 L459.5 609.0 L458.5 609.0 L457.5 609.1 L456.5 609.1 L455.5 609.2 L454.5 609.2 L453.5 609.3 L452.5 609.3 L451.5 609.4 L450.5 609.4 L449.5 609.5 L448.5 609.5 L447.5 609.6 L446.5 609.6 L445.5 609.7 L444.5 609.8 L443.5 609.8 L442.5 609.9 L441.5 609.9 L440.5 610.0 L439.5 610.1 L438.5 610.1 L437.5 610.2 L436.5 610.3 L435.5 610.4 L434.5 610.4 L433.5 610.5 L432.5 610.6 L431.5 610.7 L430.5 610.8 L429.5 610.8 L428.5 610.9 L427.5 611.0 L426.5 611.1 L425.5 611.2 L424.5 611.3 L423.5 611.4 L422.5 611.5 L421.5 611.6 L420.5 611.7 L419.5 611.8 L418.5 611.9 L417.5 612.0 L416.5 612.1 L415.5 612.2 L414.5 612.3 L413.5 612.4 L412.5 612.5 L411.5 612.6 L410.5 612.8 L409.5 612.9 L408.5 613.0 L407.5 613.1 L406.5 613.3 L405.5 613.4 L404.5 613.5 L403.5 613.6 L402.5 613.8 L401.5 613.9 L400.5 614.0 L399.5 614.2 L398.5 614.3 L397.5 614.5 L396.5 614.6 L395.5 614.8 L394.5 614.9 L393.5 615.1 L392.5 615.2 L391.5 615.4 L390.5 615.5 L389.5 615.7 L388.5 615.9 L387.5 616.0 L386.5 616.2 L385.5 616.4 L384.5 616.6 L383.5 616.8 L382.5 617.0 L381.5 617.2 L380.5 617.4 L379.5 617.6 L378.5 617.8 L377.5 618.0 L376.5 618.2 L375.5 618.4 L374.5 618.7 L373.5 618.9 L372.5 619.1 L371.5 619.4 L370.5 619.6 L369.5 619.9 L368.5 620.1 L367.5 620.4 L366.5 620.7 L365.5 621.0 L364.5 621.3 L363.5 621.5 L362.5 621.8 L361.5 622.1 L360.5 622.5 L359.5 622.8 L358.5 623.1 L357.5 623.4 L356.5 623.8 L355.5 624.1 L354.5 624.5 L353.5 624.8 L352.5 625.2 L351.5 625.6 L350.5 625.9 L349.5 626.3 L348.5 626.7 L347.5 627.1 L346.5 627.6 L345.5 628.0 L344.5 628.4 L343.5 628.9 L342.5 629.4 L341.5 629.8 L340.5 630.3 L339.5 630.9 L338.5 631.4 L337.5 632.0 L336.5 632.5 L335.5 633.1 L334.5 633.7 L333.5 634.4 L332.5 635.1 L331.5 635.8 L330.5 636.5 L329.5 637.2 L328.5 638.0 L327.5 638.8 L326.5 639.6 L325.5 640.5 L324.5 641.4 L323.5 642.3 L322.5 643.3 L321.5 644.3 L320.5 645.4 L319.5 646.4 L318.5 647.5 L317.5 648.7 L316.5 649.9 L315.5 651.1 L314.5 652.4 L313.5 653.7 L312.5 655.1 L311.5 656.5 L310.5 657.9 L309.5 659.4 L308.5 661.0 L307.5 662.5 L306.5 664.2 L305.5 665.9 L304.5 667.6 L303.5 669.4 L302.5 671.2 L301.5 673.1 L300.5 675.0 L299.5 677.0 L298.5 679.1 L297.5 681.2 L296.5 683.3 L295.5 685.5 L294.5 687.7 L293.5 689.9 L292.5 692.2 L291.5 694.4 L290.5 696.7 L289.5 699.1 L288.5 701.4 L287.5 703.7 L286.5 706.1 L285.5 708.4 L284.5 710.7 L283.5 713.1 L282.5 715.4 L281.5 717.7 L280.5 719.9 L279.5 722.2 L278.5 724.4 L277.5 726.6 L276.5 728.7 L275.5 730.8 L274.5 732.8 L273.5 734.8 L272.5 736.7 L271.5 738.5 L270.5 740.3 L269.5 741.9 L268.5 743.5 L267.5 745.1 L266.5 746.5 L265.5 747.8 L264.5 749.0 L263.5 750.1 L262.5 751.1 L261.5 752.0 L260.5 752.7 L259.5 753.3 L258.5 753.8 L257.5 754.2 L256.5 754.4 L255.5 754.4 L254.5 754.3 L253.5 754.0 L252.5 753.6 L251.5 753.0 L250.5 752.2 L249.5 751.2 L248.5 750.1 L247.5 748.8 L246.5 747.2 L245.5 745.5 L244.5 743.6 L243.5 741.5 L242.5 739.3 L241.5 736.8 L240.5 734.3 L239.5 731.5 L238.5 728.7 L237.5 725.6 L236.5 722.5 L235.5 719.2 L234.5 715.9 L233.5 712.4 L232.5 708.8 L231.5 705.1 L230.5 701.3 L229.5 697.4 L228.5 693.5 L227.5 689.5 L226.5 685.4 L225.5 681.3 L224.5 677.1 L223.5 672.9 L222.5 668.7 L221.5 664.4 L220.5 660.1 L219.5 655.8 L218.5 651.5 L217.5 647.2 L216.5 642.9 L215.5 638.6 L214.5 634.4 L213.5 630.1 L212.5 625.9 L211.5 621.8 L210.5 617.7 L209.5 613.7 L208.5 609.7 L207.5 605.8 L206.5 602.0 L205.5 598.2 L204.5 594.6 L203.5 591.0 L202.5 587.5 L201.5 584.1 L200.5 580.8 L199.5 577.5 L198.5 574.4 L197.5 571.4 L196.5 568.4 L195.5 565.6 L194.5 562.9 L193.5 560.3 L192.5 557.7 L191.5 555.3 L190.5 553.0 L189.5 550.7 L188.5 548.6 L187.5 546.5 L186.5 544.5 L185.5 542.6 L184.5 540.7 L183.5 538.9 L182.5 537.2 L181.5 535.5 L180.5 533.9 L179.5 532.4 L178.5 530.9 L177.5 529.5 L176.5 528.2 L175.5 526.9 L174.5 525.7 L173.5 524.6 L172.5 523.6 L171.5 522.6 L170.5 521.7 L169.5 520.9 L168.5 520.1 L167.5 519.4 L166.5 518.7 L165.5 518.0 L164.5 517.4 L163.5 516.9 L162.5 516.3 L161.5 515.9 L160.5 515.4 L159.5 515.0 L158.5 514.6 L157.5 514.2 L156.5 513.9 L155.5 513.6 L154.5 513.4 L153.5 513.2 L152.5 513.0 L151.5 512.9 L150.5 512.8 L149.5 512.7 L148.5 512.7 L147.5 512.7 L146.5 512.7 L145.5 512.8 L144.5 512.9 L143.5 513.0 L142.5 513.2Z" fill="#00ff00"/>
<path d="M142.5 508.5 L143.5 508.8 L144.5 509.2 L145.5 509.5 L146.5 509.9 L147.5 510.3 L148.5 510.7 L149.5 511.1 L150.5 511.5 L151.5 512.0 L152.5 512.4 L153.5 512.9 L154.5 513.3 L155.5 513.8 L156.5 514.3 L157.5 514.7 L158.5 515.2 L159.5 515.7 L160.5 516.2 L161.5 516.7 L162.5 517.3 L163.5 517.8 L164.5 518.4 L165.5 518.9 L166.5 519.5 L167.5 520.2 L168.5 520.8 L169.5 521.5 L170.5 522.2 L171.5 522.9 L172.5 523.7 L173.5 524.4 L174.5 525.3 L175.5 526.1 L176.5 527.0 L177.5 527.9 L178.5 528.8 L179.5 529.7 L180.5 530.6 L181.5 531.5 L182.5 532.5 L183.5 533.4 L184.5 534.3 L185.5 535.2 L186.5 536.1 L187.5 537.0 L188.5 537.9 L189.5 538.9 L190.5 539.9 L191.5 540.9 L192.5 542.0 L193.5 543.1 L194.5 544.3 L195.5 545.5 L196.5 546.8 L197.5 548.2 L198.5 549.5 L199.5 551.0 L200.5 552.4 L201.5 553.9 L202.5 555.4 L203.5 557.0 L204.5 558.5 L205.5 560.2 L206.5 561.8 L207.5 563.4 L208.5 565.1 L209.5 566.8 L210.5 568.5 L211.5 570.2 L212.5 571.9 L213.5 573.6 L214.5 575.3 L215.5 577.1 L216.5 578.8 L217.5 580.5 L218.5 582.3 L219.5 584.0 L220.5 585.7 L221.5 587.4 L222.5 589.1 L223.5 590.8 L224.5 592.5 L225.5 594.1 L226.5 595.8 L227.5 597.4 L228.5 599.0 L229.5 600.6 L230.5 602.2 L231.5 603.7 L232.5 605.2 L233.5 606.7 L234.5 608.1 L235.5 609.5 L236.5 610.8 L237.5 612.1 L238.5 613.4 L239.5 614.6 L240.5 615.7 L241.5 616.8 L242.5 617.8 L243.5 618.8 L244.5 619.7 L245.5 620.5 L246.5 621.2 L247.5 621.9 L248.5 622.5 L249.5 623.0 L250.5 623.5 L251.5 623.8 L252.5 624.1 L253.5 624.3 L254.5 624.4 L255.5 624.4 L256.5 624.4 L257.5 624.3 L258.5 624.1 L259.5 623.9 L260.5 623.6 L261.5 623.3 L262.5 623.0 L263.5 622.6 L264.5 622.2 L265.5 621.7 L266.5 621.3 L267.5 620.8 L268.5 620.3 L269.5 619.8 L270.5 619.3 L271.5 618.8 L272.5 618.2 L273.5 617.6 L274.5 617.0 L275.5 616.4 L276.5 615.8 L277.5 615.2 L278.5 614.5 L279.5 613.8 L280.5 613.1 L281.5 612.4 L282.5 611.7 L283.5 610.9 L284.5 610.1 L285.5 609.4 L286.5 608.6 L287.5 607.8 L288.5 606.9 L289.5 606.1 L290.5 605.3 L291.5 604.5 L292.5 603.7 L293.5 602.9 L294.5 602.1 L295.5 601.3 L296.5 600.6 L297.5 599.8 L298.5 599.1 L299.5 598.4 L300.5 597.7 L301.5 597.1 L302.5 596.4 L303.5 595.8 L304.5 595.3 L305.5 594.7 L306.5 594.2 L307.5 593.7 L308.5 593.2 L309.5 592.7 L310.5 592.3 L311.5 591.8 L312.5 591.4 L313.5 591.0 L314.5 590.6 L315.5 590.3 L316.5 589.9 L317.5 589.6 L318.5 589.3 L319.5 589.0 L320.5 588.7 L321.5 588.4 L322.5 588.1 L323.5 587.8 L324.5 587.6 L325.5 587.3 L326.5 587.1 L327.5 586.8 L328.5 586.6 L329.5 586.4 L330.5 586.1 L331.5 585.9 L332.5 585.7 L333.5 585.5 L334.5 585.3 L335.5 585.1 L336.5 584.9 L337.5 584.8 L338.5 584.6 L339.5 584.4 L340.5 584.3 L341.5 584.1 L342.5 584.0 L343.5 583.8 L344.5 583.7 L345.5 583.5 L346.5 583.4 L347.5 583.3 L348.5 583.1 L349.5 583.0 L350.5 582.9 L351.5 582.8 L352.5 582.7 L353.5 582.5 L354.5 582.4 L355.5 582.3 L356.5 582.2 L357.5 582.1 L358.5 582.0 L359.5 582.0 L360.5 581.9 L361.5 581.8 L362.5 581.7 L363.5 581.6 L364.5 581.5 L365.5 581.4 L366.5 581.4 L367.5 581.3 L368.5 581.2 L369.5 581.1 L370.5 581.1 L371.5 581.0 L372.5 580.9 L373.5 580.8 L374.5 580.8 L375.5 580.7 L376.5 580.6 L377.5 580.6 L378.5 580.5 L379.5 580.4 L380.5 580.4 L381.5 580.3 L382.5 580.2 L383.5 580.2 L384.5 580.1 L385.5 580.1 L386.5 580.0 L387.5 580.0 L388.5 579.9 L389.5 579.9 L390.5 579.8 L391.5 579.8 L392.5 579.7 L393.5 579.7 L394.5 579.6 L395.5 579.6 L396.5 579.5 L397.5 579.5 L398.5 579.4 L399.5 579.4 L400.5 579.4 L401.5 579.3 L402.5 579.3 L403.5 579.3 L404.5 579.2 L405.5 579.2 L406.5 579.1 L407.5 579.1 L408.5 579.1 L409.5 579.1 L410.5 579.0 L411.5 579.0 L412.5 579.0 L413.5 578.9 L414.5 578.9 L415.5 578.9 L416.5 578.9 L417.5 578.8 L418.5 578.8 L419.5 578.8 L420.5 578.8 L421.5 578.8 L422.5 578.7 L423.5 578.7 L424.5 578.7 L425.5 578.7 L426.5 578.7 L427.5 578.7 L428.5 578.7 L429.5 578.6 L430.5 578.6 L431.5 578.6 L432.5 578.6 L433.5 578.6 L434.5 578.6 L435.5 578.6 L436.5 578.6 L437.5 578.6 L438.5 578.6 L439.5 578.6 L440.5 578.6 L441.5 578.6 L442.5 578.6 L443.5 578.6 L444.5 578.6 L445.5 578.6 L446.5 578.6 L447.5 578.6 L448.5 578.6 L449.5 578.6 L450.5 578.6 L451.5 578.6 L452.5 578.6 L453.5 578.6 L454.5 578.6 L455.5 578.6 L456.5 578.6 L457.5 578.6 L458.5 578.6 L459.5 578.6 L460.5 578.7 L461.5 578.7 L462.5 578.7 L463.5 578.7 L464.5 578.7 L465.5 578.7 L466.5 578.7 L467.5 578.7 L468.5 578.8 L469.5 578.8 L470.5 578.8 L471.5 578.8 L472.5 578.8 L473.5 578.8 L474.5 578.9 L475.5 578.9 L476.5 578.9 L477.5 578.9 L478.5 578.9 L479.5 579.0 L480.5 579.0 L481.5 579.0 L482.5 579.0 L483.5 579.1 L484.5 579.1 L485.5 579.1 L486.5 579.1 L487.5 579.2 L488.5 579.2 L489.5 579.2 L490.5 579.2 L491.5 579.3 L492.5 579.3 L493.5 579.3 L494.5 579.3 L495.5 579.4 L496.5 579.4 L497.5 579.4 L498.5 579.5 L499.5 579.5 L500.5 579.5 L501.5 579.6 L502.5 579.6 L503.5 579.6 L504.5 579.7 L505.5 579.7 L506.5 579.7 L507.5 579.8 L508.5 579.8 L509.5 579.8 L510.5 579.9 L511.5 579.9 L512.5 579.9 L513.5 580.0 L514.5 580.0 L515.5 580.0 L516.5 580.1 L517.5 580.1 L518.5 580.1 L519.5 580.2 L520.5 580.2 L521.5 580.3 L522.5 580.3 L523.5 580.3 L524.5 580.4 L525.5 580.4 L526.5 580.5 L527.5 580.5 L528.5 580.5 L529.5 580.6 L530.5 580.6 L531.5 580.7 L532.5 580.7 L533.5 580.7 L534.5 580.8 L535.5 580.8 L536.5 580.9 L537.5 580.9 L538.5 580.9 L539.5 581.0 L540.5 581.0 L541.5 581.1 L542.5 581.1 L543.5 581.2 L544.5 581.2 L545.5 581.2 L546.5 581.3 L547.5 581.3 L548.5 581.4 L549.5 581.4 L550.5 581.5 L551.5 581.5 L552.5 581.5 L553.5 581.6 L554.5 581.6 L555.5 581.7 L556.5 581.7 L557.5 581.8 L558.5 581.8 L559.5 581.9 L560.5 581.9 L561.5 581.9 L562.5 582.0 L563.5 582.0 L564.5 582.1 L565.5 582.1 L566.5 582.2 L567.5 582.2 L568.5 582.3 L569.5 582.3 L570.5 582.3 L571.5 582.4 L572.5 582.4 L573.5 582.5 L574.5 582.5 L575.5 582.6 L576.5 582.6 L577.5 582.7 L578.5 582.7 L579.5 582.8 L580.5 582.8 L581.5 582.8 L582.5 582.9 L583.5 582.9 L584.5 583.0 L585.5 583.0 L586.5 583.1 L587.5 583.1 L588.5 583.1 L589.5 583.2 L590.5 583.2 L591.5 583.3 L592.5 583.3 L593.5 583.4 L594.5 583.4 L595.5 583.5 L596.5 583.5 L597.5 583.5 L598.5 583.6 L599.5 583.6 L600.5 583.7 L601.5 583.7 L602.5 583.8 L603.5 583.8 L604.5 583.8 L605.5 583.9 L606.5 583.9 L607.5 584.0 L608.5 584.0 L609.5 584.0 L610.5 584.1 L611.5 584.1 L612.5 584.2 L613.5 584.2 L614.5 584.2 L615.5 584.3 L616.5 584.3 L617.5 584.4 L618.5 584.4 L619.5 584.4 L620.5 584.5 L621.5 584.5 L622.5 584.5 L623.5 584.6 L624.5 584.6 L625.5 584.7 L626.5 584.7 L627.5 584.7 L628.5 584.8 L629.5 584.8 L630.5 584.8 L631.5 584.9 L632.5 584.9 L633.5 584.9 L634.5 585.0 L635.5 585.0 L636.5 585.0 L637.5 585.1 L638.5 585.1 L639.5 585.1 L640.5 585.2 L641.5 585.2 L642.5 585.2 L643.5 585.3 L644.5 585.3 L645.5 585.3 L646.5 585.3 L647.5 585.4 L648.5 585.4 L649.5 585.4 L650.5 585.5 L651.5 585.5 L652.5 585.5 L653.5 585.5 L654.5 585.6 L655.5 585.6 L656.5 585.6 L657.5 585.6 L658.5 585.7 L659.5 585.7 L660.5 585.7 L661.5 585.7 L662.5 585.7 L663.5 585.8 L664.5 585.8 L665.5 585.8 L666.5 585.8 L667.5 585.8 L668.5 585.9 L669.5 585.9 L669.5 598.9 L668.5 598.9 L667.5 598.9 L666.5 598.9 L665.5 598.9 L664.5 598.9 L663.5 598.9 L662.5 598.8 L661.5 598.8 L660.5 598.8 L659.5 598.8 L658.5 598.8 L657.5 598.8 L656.5 598.8 L655.5 598.8 L654.5 598.7 L653.5 598.7 L652.5 598.7 L651.5 598.7 L650.5 598.7 L649.5 598.7 L648.5 598.7 L647.5 598.6 L646.5 598.6 L645.5 598.6 L644.5 598.6 L643.5 598.6 L642.5 598.5 L641.5 598.5 L640.5 598.5 L639.5 598.5 L638.5 598.5 L637.5 598.4 L636.5 598.4 L635.5 598.4 L634.5 598.4 L633.5 598.3 L632.5 598.3 L631.5 598.3 L630.5 598.3 L629.5 598.2 L628.5 598.2 L627.5 598.2 L626.5 598.2 L625.5 598.1 L624.5 598.1 L623.5 598.1 L622.5 598.0 L621.5 598.0 L620.5 598.0 L619.5 598.0 L618.5 597.9 L617.5 597.9 L616.5 597.9 L615.5 597.8 L614.5 597.8 L613.5 597.8 L612.5 597.8 L611.5 597.7 L610.5 597.7 L609.5 597.7 L608.5 597.6 L607.5 597.6 L606.5 597.6 L605.5 597.5 L604.5 597.5 L603.5 597.5 L602.5 597.4 L601.5 597.4 L600.5 597.4 L599.5 597.3 L598.5 597.3 L597.5 597.3 L596.5 597.2 L595.5 597.2 L594.5 597.1 L593.5 597.1 L592.5 597.1 L591.5 597.0 L590.5 597.0 L589.5 597.0 L588.5 596.9 L587.5 596.9 L586.5 596.9 L585.5 596.8 L584.5 596.8 L583.5 596.8 L582.5 596.7 L581.5 596.7 L580.5 596.6 L579.5 596.6 L578.5 596.6 L577.5 596.5 L576.5 596.5 L575.5 596.5 L574.5 596.4 L573.5 596.4 L572.5 596.4 L571.5 596.3 L570.5 596.3 L569.5 596.2 L568.5 596.2 L567.5 596.2 L566.5 596.1 L565.5 596.1 L564.5 596.1 L563.5 596.0 L562.5 596.0 L561.5 596.0 L560.5 595.9 L559.5 595.9 L558.5 595.9 L557.5 595.8 L556.5 595.8 L555.5 595.7 L554.5 595.7 L553.5 595.7 L552.5 595.6 L551.5 595.6 L550.5 595.6 L549.5 595.5 L548.5 595.5 L547.5 595.5 L546.5 595.4 L545.5 595.4 L544.5 595.4 L543.5 595.3 L542.5 595.3 L541.5 595.3 L540.5 595.2 L539.5 595.2 L538.5 595.2 L537.5 595.1 L536.5 595.1 L535.5 595.1 L534.5 595.1 L533.5 595.0 L532.5 595.0 L531.5 595.0 L530.5 594.9 L529.5 594.9 L528.5 594.9 L527.5 594.8 L526.5 594.8 L525.5 594.8 L524.5 594.8 L523.5 594.7 L522.5 594.7 L521.5 594.7 L520.5 594.7 L519.5 594.6 L518.5 594.6 L517.5 594.6 L516.5 594.6 L515.5 594.5 L514.5 594.5 L513.5 594.5 L512.5 594.5 L511.5 594.4 L510.5 594.4 L509.5 594.4 L508.5 594.4 L507.5 594.3 L506.5 594.3 L505.5 594.3 L504.5 594.3 L503.5 594.3 L502.5 594.3 L501.5 594.2 L500.5 594.2 L499.5 594.2 L498.5 594.2 L497.5 594.2 L496.5 594.2 L495.5 594.1 L494.5 594.1 L493.5 594.1 L492.5 594.1 L491.5 594.1 L490.5 594.1 L489.5 594.1 L488.5 594.0 L487.5 594.0 L486.5 594.0 L485.5 594.0 L484.5 594.0 L483.5 594.0 L482.5 594.0 L481.5 594.0 L480.5 594.0 L479.5 594.0 L478.5 594.0 L477.5 594.0 L476.5 594.0 L475.5 594.0 L474.5 594.0 L473.5 594.0 L472.5 594.0 L471.5 594.0 L470.5 594.0 L469.5 594.0 L468.5 594.0 L467.5 594.0 L466.5 594.0 L465.5 594.0 L464.5 594.0 L463.5 594.0 L462.5 594.0 L461.5 594.0 L460.5 594.0 L459.5 594.0 L458.5 594.0 L457.5 594.0 L456.5 594.1 L455.5 594.1 L454.5 594.1 L453.5 594.1 L452.5 594.1 L451.5 594.1 L450.5 594.1 L449.5 594.2 L448.5 594.2 L447.5 594.2 L446.5 594.2 L445.5 594.2 L444.5 594.3 L443.5 594.3 L442.5 594.3 L441.5 594.3 L440.5 594.4 L439.5 594.4 L438.5 594.4 L437.5 594.5 L436.5 594.5 L435.5 594.5 L434.5 594.5 L433.5 594.6 L432.5 594.6 L431.5 594.6 L430.5 594.7 L429.5 594.7 L428.5 594.8 L427.5 594.8 L426.5 594.8 L425.5 594.9 L424.5 594.9 L423.5 595.0 L422.5 595.0 L421.5 595.0 L420.5 595.1 L419.5 595.1 L418.5 595.2 L417.5 595.2 L416.5 595.3 L415.5 595.4 L414.5 595.4 L413.5 595.5 L412.5 595.5 L411.5 595.6 L410.5 595.7 L409.5 595.7 L408.5 595.8 L407.5 595.9 L406.5 595.9 L405.5 596.0 L404.5 596.1 L403.5 596.2 L402.5 596.2 L401.5 596.3 L400.5 596.4 L399.5 596.5 L398.5 596.6 L397.5 596.7 L396.5 596.8 L395.5 596.9 L394.5 597.0 L393.5 597.1 L392.5 597.2 L391.5 597.3 L390.5 597.4 L389.5 597.5 L388.5 597.6 L387.5 597.7 L386.5 597.9 L385.5 598.0 L384.5 598.1 L383.5 598.3 L382.5 598.4 L381.5 598.5 L380.5 598.7 L379.5 598.8 L378.5 599.0 L377.5 599.1 L376.5 599.3 L375.5 599.4 L374.5 599.6 L373.5 599.8 L372.5 599.9 L371.5 600.1 L370.5 600.3 L369.5 600.5 L368.5 600.7 L367.5 600.9 L366.5 601.1 L365.5 601.3 L364.5 601.5 L363.5 601.7 L362.5 601.9 L361.5 602.1 L360.5 602.3 L359.5 602.5 L358.5 602.8 L357.5 603.0 L356.5 603.2 L355.5 603.5 L354.5 603.7 L353.5 604.0 L352.5 604.2 L351.5 604.5 L350.5 604.8 L349.5 605.0 L348.5 605.3 L347.5 605.6 L346.5 605.9 L345.5 606.2 L344.5 606.5 L343.5 606.8 L342.5 607.1 L341.5 607.4 L340.5 607.7 L339.5 608.0 L338.5 608.4 L337.5 608.7 L336.5 609.1 L335.5 609.4 L334.5 609.8 L333.5 610.1 L332.5 610.5 L331.5 610.9 L330.5 611.3 L329.5 611.7 L328.5 612.2 L327.5 612.6 L326.5 613.1 L325.5 613.6 L324.5 614.1 L323.5 614.7 L322.5 615.2 L321.5 615.8 L320.5 616.5 L319.5 617.1 L318.5 617.8 L317.5 618.5 L316.5 619.3 L315.5 620.0 L314.5 620.9 L313.5 621.7 L312.5 622.6 L311.5 623.5 L310.5 624.5 L309.5 625.5 L308.5 626.6 L307.5 627.7 L306.5 628.8 L305.5 629.9 L304.5 631.1 L303.5 632.4 L302.5 633.7 L301.5 635.0 L300.5 636.3 L299.5 637.6 L298.5 639.0 L297.5 640.5 L296.5 641.9 L295.5 643.4 L294.5 644.9 L293.5 646.4 L292.5 647.9 L291.5 649.5 L290.5 651.0 L289.5 652.6 L288.5 654.2 L287.5 655.8 L286.5 657.4 L285.5 659.0 L284.5 660.6 L283.5 662.2 L282.5 663.7 L281.5 665.3 L280.5 666.8 L279.5 668.3 L278.5 669.8 L277.5 671.2 L276.5 672.6 L275.5 674.0 L274.5 675.3 L273.5 676.6 L272.5 677.9 L271.5 679.0 L270.5 680.2 L269.5 681.3 L268.5 682.3 L267.5 683.2 L266.5 684.1 L265.5 685.0 L264.5 685.7 L263.5 686.4 L262.5 687.0 L261.5 687.5 L260.5 688.0 L259.5 688.3 L258.5 688.6 L257.5 688.7 L256.5 688.8 L255.5 688.8 L254.5 688.7 L253.5 688.5 L252.5 688.1 L251.5 687.7 L250.5 687.2 L249.5 686.5 L248.5 685.8 L247.5 684.9 L246.5 683.9 L245.5 682.8 L244.5 681.6 L243.5 680.3 L242.5 678.8 L241.5 677.2 L240.5 675.5 L239.5 673.6 L238.5 671.6 L237.5 669.5 L236.5 667.3 L235.5 665.0 L234.5 662.6 L233.5 660.0 L232.5 657.4 L231.5 654.8 L230.5 652.0 L229.5 649.2 L228.5 646.3 L227.5 643.4 L226.5 640.5 L225.5 637.6 L224.5 634.6 L223.5 631.6 L222.5 628.6 L221.5 625.6 L220.5 622.5 L219.5 619.5 L218.5 616.5 L217.5 613.5 L216.5 610.4 L215.5 607.4 L214.5 604.5 L213.5 601.5 L212.5 598.5 L211.5 595.6 L210.5 592.7 L209.5 589.9 L208.5 587.0 L207.5 584.2 L206.5 581.5 L205.5 578.8 L204.5 576.1 L203.5 573.5 L202.5 570.9 L201.5 568.4 L200.5 566.0 L199.5 563.6 L198.5 561.3 L197.5 559.0 L196.5 556.9 L195.5 554.8 L194.5 552.7 L193.5 550.8 L192.5 549.0 L191.5 547.2 L190.5 545.5 L189.5 543.9 L188.5 542.4 L187.5 540.9 L186.5 539.4 L185.5 538.1 L184.5 536.7 L183.5 535.4 L182.5 534.2 L181.5 533.0 L180.5 531.8 L179.5 530.6 L178.5 529.5 L177.5 528.5 L176.5 527.4 L175.5 526.4 L174.5 525.5 L173.5 524.6 L172.5 523.7 L171.5 522.8 L170.5 522.0 L169.5 521.3 L168.5 520.5 L167.5 519.8 L166.5 519.2 L165.5 518.5 L164.5 517.9 L163.5 517.4 L162.5 516.8 L161.5 516.3 L160.5 515.8 L159.5 515.3 L158.5 514.9 L157.5 514.5 L156.5 514.1 L155.5 513.7 L154.5 513.3 L153.5 513.0 L152.5 512.6 L151.5 512.3 L150.5 512.0 L149.5 511.8 L148.5 511.5 L147.5 511.3 L146.5 511.1 L145.5 510.9 L144.5 510.7 L143.5 510.5 L142.5 510.4Z" fill="#ff0000"/>
<path d="M142.5 505.8 L143.5 506.4 L144.5 507.0 L145.5 507.6 L146.5 508.2 L147.5 508.8 L148.5 509.4 L149.5 510.0 L150.5 510.6 L151.5 511.2 L152.5 511.8 L153.5 512.4 L154.5 513.0 L155.5 513.6 L156.5 514.2 L157.5 514.8 L158.5 515.4 L159.5 516.0 L160.5 516.6 L161.5 517.2 L162.5 517.7 L163.5 518.3 L164.5 518.9 L165.5 519.5 L166.5 520.1 L167.5 520.7 L168.5 521.2 L169.5 521.8 L170.5 522.4 L171.5 523.0 L172.5 523.6 L173.5 524.1 L174.5 524.7 L175.5 525.3 L176.5 525.9 L177.5 526.4 L178.5 527.0 L179.5 527.6 L180.5 528.1 L181.5 528.7 L182.5 529.3 L183.5 529.8 L184.5 530.4 L185.5 530.9 L186.5 531.5 L187.5 532.1 L188.5 532.6 L189.5 533.2 L190.5 533.7 L191.5 534.3 L192.5 534.8 L193.5 535.4 L194.5 536.0 L195.5 536.5 L196.5 537.1 L197.5 537.6 L198.5 538.2 L199.5 538.7 L200.5 539.2 L201.5 539.8 L202.5 540.3 L203.5 540.9 L204.5 541.4 L205.5 541.9 L206.5 542.5 L207.5 543.0 L208.5 543.5 L209.5 544.0 L210.5 544.6 L211.5 545.1 L212.5 545.6 L213.5 546.1 L214.5 546.6 L215.5 547.0 L216.5 547.5 L217.5 548.0 L218.5 548.5 L219.5 548.9 L220.5 549.4 L221.5 549.8 L222.5 550.3 L223.5 550.7 L224.5 551.1 L225.5 551.5 L226.5 551.9 L227.5 552.3 L228.5 552.7 L229.5 553.1 L230.5 553.4 L231.5 553.8 L232.5 554.1 L233.5 554.5 L234.5 554.8 L235.5 555.1 L236.5 555.4 L237.5 555.7 L238.5 555.9 L239.5 556.2 L240.5 556.5 L241.5 556.7 L242.5 556.9 L243.5 557.1 L244.5 557.3 L245.5 557.5 L246.5 557.7 L247.5 557.9 L248.5 558.0 L249.5 558.2 L250.5 558.3 L251.5 558.5 L252.5 558.6 L253.5 558.7 L254.5 558.8 L255.5 558.9 L256.5 559.0 L257.5 559.1 L258.5 559.2 L259.5 559.3 L260.5 559.3 L261.5 559.4 L262.5 559.5 L263.5 559.5 L264.5 559.6 L265.5 559.6 L266.5 559.6 L267.5 559.7 L268.5 559.7 L269.5 559.7 L270.5 559.7 L271.5 559.7 L272.5 559.8 L273.5 559.8 L274.5 559.8 L275.5 559.8 L276.5 559.8 L277.5 559.8 L278.5 559.8 L279.5 559.8 L280.5 559.8 L281.5 559.8 L282.5 559.7 L283.5 559.7 L284.5 559.7 L285.5 559.7 L286.5 559.7 L287.5 559.7 L288.5 559.7 L289.5 559.7 L290.5 559.6 L291.5 559.6 L292.5 559.6 L293.5 559.6 L294.5 559.6 L295.5 559.6 L296.5 559.6 L297.5 559.6 L298.5 559.6 L299.5 559.5 L300.5 559.5 L301.5 559.5 L302.5 559.5 L303.5 559.5 L304.5 559.5 L305.5 559.5 L306.5 559.5 L307.5 559.5 L308.5 559.6 L309.5 559.6 L310.5 559.6 L311.5 559.6 L312.5 559.6 L313.5 559.7 L314.5 559.7 L315.5 559.7 L316.5 559.7 L317.5 559.8 L318.5 559.8 L319.5 559.9 L320.5 559.9 L321.5 560.0 L322.5 560.0 L323.5 560.1 L324.5 560.1 L325.5 560.2 L326.5 560.3 L327.5 560.3 L328.5 560.4 L329.5 560.5 L330.5 560.5 L331.5 560.6 L332.5 560.6 L333.5 560.7 L334.5 560.8 L335.5 560.8 L336.5 560.9 L337.5 561.0 L338.5 561.0 L339.5 561.1 L340.5 561.2 L341.5 561.2 L342.5 561.3 L343.5 561.3 L344.5 561.4 L345.5 561.4 L346.5 561.5 L347.5 561.5 L348.5 561.6 L349.5 561.6 L350.5 561.7 L351.5 561.7 L352.5 561.8 L353.5 561.8 L354.5 561.9 L355.5 561.9 L356.5 561.9 L357.5 562.0 L358.5 562.0 L359.5 562.0 L360.5 562.1 L361.5 562.1 L362.5 562.1 L363.5 562.1 L364.5 562.2 L365.5 562.2 L366.5 562.2 L367.5 562.2 L368.5 562.2 L369.5 562.3 L370.5 562.3 L371.5 562.3 L372.5 562.3 L373.5 562.3 L374.5 562.3 L375.5 562.3 L376.5 562.3 L377.5 562.3 L378.5 562.3 L379.5 562.3 L380.5 562.3 L381.5 562.3 L382.5 562.3 L383.5 562.3 L384.5 562.3 L385.5 562.2 L386.5 562.2 L387.5 562.2 L388.5 562.2 L389.5 562.2 L390.5 562.2 L391.5 562.1 L392.5 562.1 L393.5 562.1 L394.5 562.1 L395.5 562.0 L396.5 562.0 L397.5 562.0 L398.5 562.0 L399.5 562.0 L400.5 561.9 L401.5 561.9 L402.5 561.9 L403.5 561.9 L404.5 561.9 L405.5 561.8 L406.5 561.8 L407.5 561.8 L408.5 561.8 L409.5 561.8 L410.5 561.8 L411.5 561.8 L412.5 561.8 L413.5 561.8 L414.5 561.7 L415.5 561.7 L416.5 561.7 L417.5 561.7 L418.5 561.7 L419.5 561.8 L420.5 561.8 L421.5 561.8 L422.5 561.8 L423.5 561.8 L424.5 561.8 L425.5 561.8 L426.5 561.9 L427.5 561.9 L428.5 561.9 L429.5 561.9 L430.5 561.9 L431.5 562.0 L432.5 562.0 L433.5 562.0 L434.5 562.1 L435.5 562.1 L436.5 562.1 L437.5 562.2 L438.5 562.2 L439.5 562.3 L440.5 562.3 L441.5 562.3 L442.5 562.4 L443.5 562.4 L444.5 562.5 L445.5 562.5 L446.5 562.6 L447.5 562.6 L448.5 562.6 L449.5 562.7 L450.5 562.7 L451.5 562.8 L452.5 562.8 L453.5 562.9 L454.5 562.9 L455.5 563.0 L456.5 563.0 L457.5 563.1 L458.5 563.1 L459.5 563.2 L460.5 563.2 L461.5 563.3 L462.5 563.3 L463.5 563.4 L464.5 563.5 L465.5 563.5 L466.5 563.6 L467.5 563.6 L468.5 563.7 L469.5 563.7 L470.5 563.8 L471.5 563.8 L472.5 563.9 L473.5 563.9 L474.5 564.0 L475.5 564.0 L476.5 564.1 L477.5 564.1 L478.5 564.2 L479.5 564.2 L480.5 564.3 L481.5 564.3 L482.5 564.4 L483.5 564.4 L484.5 564.5 L485.5 564.5 L486.5 564.6 L487.5 564.6 L488.5 564.7 L489.5 564.7 L490.5 564.8 L491.5 564.8 L492.5 564.8 L493.5 564.9 L494.5 564.9 L495.5 565.0 L496.5 565.0 L497.5 565.1 L498.5 565.1 L499.5 565.2 L500.5 565.2 L501.5 565.3 L502.5 565.3 L503.5 565.4 L504.5 565.4 L505.5 565.5 L506.5 565.5 L507.5 565.6 L508.5 565.6 L509.5 565.6 L510.5 565.7 L511.5 565.7 L512.5 565.8 L513.5 565.8 L514.5 565.9 L515.5 565.9 L516.5 566.0 L517.5 566.0 L518.5 566.1 L519.5 566.1 L520.5 566.2 L521.5 566.2 L522.5 566.2 L523.5 566.3 L524.5 566.3 L525.5 566.4 L526.5 566.4 L527.5 566.5 L528.5 566.5 L529.5 566.6 L530.5 566.6 L531.5 566.6 L532.5 566.7 L533.5 566.7 L534.5 566.8 L535.5 566.8 L536.5 566.9 L537.5 566.9 L538.5 567.0 L539.5 567.0 L540.5 567.0 L541.5 567.1 L542.5 567.1 L543.5 567.2 L544.5 567.2 L545.5 567.3 L546.5 567.3 L547.5 567.4 L548.5 567.4 L549.5 567.4 L550.5 567.5 L551.5 567.5 L552.5 567.6 L553.5 567.6 L554.5 567.7 L555.5 567.7 L556.5 567.7 L557.5 567.8 L558.5 567.8 L559.5 567.9 L560.5 567.9 L561.5 568.0 L562.5 568.0 L563.5 568.0 L564.5 568.1 L565.5 568.1 L566.5 568.2 L567.5 568.2 L568.5 568.3 L569.5 568.3 L570.5 568.3 L571.5 568.4 L572.5 568.4 L573.5 568.5 L574.5 568.5 L575.5 568.6 L576.5 568.6 L577.5 568.6 L578.5 568.7 L579.5 568.7 L580.5 568.8 L581.5 568.8 L582.5 568.8 L583.5 568.9 L584.5 568.9 L585.5 569.0 L586.5 569.0 L587.5 569.1 L588.5 569.1 L589.5 569.1 L590.5 569.2 L591.5 569.2 L592.5 569.3 L593.5 569.3 L594.5 569.4 L595.5 569.4 L596.5 569.4 L597.5 569.5 L598.5 569.5 L599.5 569.6 L600.5 569.6 L601.5 569.7 L602.5 569.7 L603.5 569.7 L604.5 569.8 L605.5 569.8 L606.5 569.9 L607.5 569.9 L608.5 569.9 L609.5 570.0 L610.5 570.0 L611.5 570.1 L612.5 570.1 L613.5 570.2 L614.5 570.2 L615.5 570.2 L616.5 570.3 L617.5 570.3 L618.5 570.4 L619.5 570.4 L620.5 570.5 L621.5 570.5 L622.5 570.5 L623.5 570.6 L624.5 570.6 L625.5 570.7 L626.5 570.7 L627.5 570.8 L628.5 570.8 L629.5 570.8 L630.5 570.9 L631.5 570.9 L632.5 571.0 L633.5 571.0 L634.5 571.1 L635.5 571.1 L636.5 571.1 L637.5 571.2 L638.5 571.2 L639.5 571.3 L640.5 571.3 L641.5 571.4 L642.5 571.4 L643.5 571.4 L644.5 571.5 L645.5 571.5 L646.5 571.6 L647.5 571.6 L648.5 571.7 L649.5 571.7 L650.5 571.7 L651.5 571.8 L652.5 571.8 L653.5 571.9 L654.5 571.9 L655.5 572.0 L656.5 572.0 L657.5 572.1 L658.5 572.1 L659.5 572.1 L660.5 572.2 L661.5 572.2 L662.5 572.3 L663.5 572.3 L664.5 572.4 L665.5 572.4 L666.5 572.5 L667.5 572.5 L668.5 572.5 L669.5 572.6" fill="none" stroke="#2a5a30" stroke-width="0.8" stroke-opacity="0.9"/>
<path d="M142.5 508.5 L143.5 508.8 L144.5 509.2 L145.5 509.5 L146.5 509.9 L147.5 510.3 L148.5 510.7 L149.5 511.1 L150.5 511.5 L151.5 512.0 L152.5 512.4 L153.5 512.9 L154.5 513.3 L155.5 513.8 L156.5 514.3 L157.5 514.7 L158.5 515.2 L159.5 515.7 L160.5 516.2 L161.5 516.7 L162.5 517.3 L163.5 517.8 L164.5 518.4 L165.5 518.9 L166.5 519.5 L167.5 520.2 L168.5 520.8 L169.5 521.5 L170.5 522.2 L171.5 522.9 L172.5 523.7 L173.5 524.4 L174.5 525.3 L175.5 526.1 L176.5 527.0 L177.5 527.9 L178.5 528.8 L179.5 529.7 L180.5 530.6 L181.5 531.5 L182.5 532.5 L183.5 533.4 L184.5 534.3 L185.5 535.2 L186.5 536.1 L187.5 537.0 L188.5 537.9 L189.5 538.9 L190.5 539.9 L191.5 540.9 L192.5 542.0 L193.5 543.1 L194.5 544.3 L195.5 545.5 L196.5 546.8 L197.5 548.2 L198.5 549.5 L199.5 551.0 L200.5 552.4 L201.5 553.9 L202.5 555.4 L203.5 557.0 L204.5 558.5 L205.5 560.2 L206.5 561.8 L207.5 563.4 L208.5 565.1 L209.5 566.8 L210.5 568.5 L211.5 570.2 L212.5 571.9 L213.5 573.6 L214.5 575.3 L215.5 577.1 L216.5 578.8 L217.5 580.5 L218.5 582.3 L219.5 584.0 L220.5 585.7 L221.5 587.4 L222.5 589.1 L223.5 590.8 L224.5 592.5 L225.5 594.1 L226.5 595.8 L227.5 597.4 L228.5 599.0 L229.5 600.6 L230.5 602.2 L231.5 603.7 L232.5 605.2 L233.5 606.7 L234.5 608.1 L235.5 609.5 L236.5 610.8 L237.5 612.1 L238.5 613.4 L239.5 614.6 L240.5 615.7 L241.5 616.8 L242.5 617.8 L243.5 618.8 L244.5 619.7 L245.5 620.5 L246.5 621.2 L247.5 621.9 L248.5 622.5 L249.5 623.0 L250.5 623.5 L251.5 623.8 L252.5 624.1 L253.5 624.3 L254.5 624.4 L255.5 624.4 L256.5 624.4 L257.5 624.3 L258.5 624.1 L259.5 623.9 L260.5 623.6 L261.5 623.3 L262.5 623.0 L263.5 622.6 L264.5 622.2 L265.5 621.7 L266.5 621.3 L267.5 620.8 L268.5 620.3 L269.5 619.8 L270.5 619.3 L271.5 618.8 L272.5 618.2 L273.5 617.6 L274.5 617.0 L275.5 616.4 L276.5 615.8 L277.5 615.2 L278.5 614.5 L279.5 613.8 L280.5 613.1 L281.5 612.4 L282.5 611.7 L283.5 610.9 L284.5 610.1 L285.5 609.4 L286.5 608.6 L287.5 607.8 L288.5 606.9 L289.5 606.1 L290.5 605.3 L291.5 604.5 L292.5 603.7 L293.5 602.9 L294.5 602.1 L295.5 601.3 L296.5 600.6 L297.5 599.8 L298.5 599.1 L299.5 598.4 L300.5 597.7 L301.5 597.1 L302.5 596.4 L303.5 595.8 L304.5 595.3 L305.5 594.7 L306.5 594.2 L307.5 593.7 L308.5 593.2 L309.5 592.7 L310.5 592.3 L311.5 591.8 L312.5 591.4 L313.5 591.0 L314.5 590.6 L315.5 590.3 L316.5 589.9 L317.5 589.6 L318.5 589.3 L319.5 589.0 L320.5 588.7 L321.5 588.4 L322.5 588.1 L323.5 587.8 L324.5 587.6 L325.5 587.3 L326.5 587.1 L327.5 586.8 L328.5 586.6 L329.5 586.4 L330.5 586.1 L331.5 585.9 L332.5 585.7 L333.5 585.5 L334.5 585.3 L335.5 585.1 L336.5 584.9 L337.5 584.8 L338.5 584.6 L339.5 584.4 L340.5 584.3 L341.5 584.1 L342.5 584.0 L343.5 583.8 L344.5 583.7 L345.5 583.5 L346.5 583.4 L347.5 583.3 L348.5 583.1 L349.5 583.0 L350.5 582.9 L351.5 582.8 L352.5 582.7 L353.5 582.5 L354.5 582.4 L355.5 582.3 L356.5 582.2 L357.5 582.1 L358.5 582.0 L359.5 582.0 L360.5 581.9 L361.5 581.8 L362.5 581.7 L363.5 581.6 L364.5 581.5 L365.5 581.4 L366.5 581.4 L367.5 581.3 L368.5 581.2 L369.5 581.1 L370.5 581.1 L371.5 581.0 L372.5 580.9 L373.5 580.8 L374.5 580.8 L375.5 580.7 L376.5 580.6 L377.5 580.6 L378.5 580.5 L379.5 580.4 L380.5 580.4 L381.5 580.3 L382.5 580.2 L383.5 580.2 L384.5 580.1 L385.5 580.1 L386.5 580.0 L387.5 580.0 L388.5 579.9 L389.5 579.9 L390.5 579.8 L391.5 579.8 L392.5 579.7 L393.5 579.7 L394.5 579.6 L395.5 579.6 L396.5 579.5 L397.5 579.5 L398.5 579.4 L399.5 579.4 L400.5 579.4 L401.5 579.3 L402.5 579.3 L403.5 579.3 L404.5 579.2 L405.5 579.2 L406.5 579.1 L407.5 579.1 L408.5 579.1 L409.5 579.1 L410.5 579.0 L411.5 579.0 L412.5 579.0 L413.5 578.9 L414.5 578.9 L415.5 578.9 L416.5 578.9 L417.5 578.8 L418.5 578.8 L419.5 578.8 L420.5 578.8 L421.5 578.8 L422.5 578.7 L423.5 578.7 L424.5 578.7 L425.5 578.7 L426.5 578.7 L427.5 578.7 L428.5 578.7 L429.5 578.6 L430.5 578.6 L431.5 578.6 L432.5 578.6 L433.5 578.6 L434.5 578.6 L435.5 578.6 L436.5 578.6 L437.5 578.6 L438.5 578.6 L439.5 578.6 L440.5 578.6 L441.5 578.6 L442.5 578.6 L443.5 578.6 L444.5 578.6 L445.5 578.6 L446.5 578.6 L447.5 578.6 L448.5 578.6 L449.5 578.6 L450.5 578.6 L451.5 578.6 L452.5 578.6 L453.5 578.6 L454.5 578.6 L455.5 578.6 L456.5 578.6 L457.5 578.6 L458.5 578.6 L459.5 578.6 L460.5 578.7 L461.5 578.7 L462.5 578.7 L463.5 578.7 L464.5 578.7 L465.5 578.7 L466.5 578.7 L467.5 578.7 L468.5 578.8 L469.5 578.8 L470.5 578.8 L471.5 578.8 L472.5 578.8 L473.5 578.8 L474.5 578.9 L475.5 578.9 L476.5 578.9 L477.5 578.9 L478.5 578.9 L479.5 579.0 L480.5 579.0 L481.5 579.0 L482.5 579.0 L483.5 579.1 L484.5 579.1 L485.5 579.1 L486.5 579.1 L487.5 579.2 L488.5 579.2 L489.5 579.2 L490.5 579.2 L491.5 579.3 L492.5 579.3 L493.5 579.3 L494.5 579.3 L495.5 579.4 L496.5 579.4 L497.5 579.4 L498.5 579.5 L499.5 579.5 L500.5 579.5 L501.5 579.6 L502.5 579.6 L503.5 579.6 L504.5 579.7 L505.5 579.7 L506.5 579.7 L507.5 579.8 L508.5 579.8 L509.5 579.8 L510.5 579.9 L511.5 579.9 L512.5 579.9 L513.5 580.0 L514.5 580.0 L515.5 580.0 L516.5 580.1 L517.5 580.1 L518.5 580.1 L519.5 580.2 L520.5 580.2 L521.5 580.3 L522.5 580.3 L523.5 580.3 L524.5 580.4 L525.5 580.4 L526.5 580.5 L527.5 580.5 L528.5 580.5 L529.5 580.6 L530.5 580.6 L531.5 580.7 L532.5 580.7 L533.5 580.7 L534.5 580.8 L535.5 580.8 L536.5 580.9 L537.5 580.9 L538.5 580.9 L539.5 581.0 L540.5 581.0 L541.5 581.1 L542.5 581.1 L543.5 581.2 L544.5 581.2 L545.5 581.2 L546.5 581.3 L547.5 581.3 L548.5 581.4 L549.5 581.4 L550.5 581.5 L551.5 581.5 L552.5 581.5 L553.5 581.6 L554.5 581.6 L555.5 581.7 L556.5 581.7 L557.5 581.8 L558.5 581.8 L559.5 581.9 L560.5 581.9 L561.5 581.9 L562.5 582.0 L563.5 582.0 L564.5 582.1 L565.5 582.1 L566.5 582.2 L567.5 582.2 L568.5 582.3 L569.5 582.3 L570.5 582.3 L571.5 582.4 L572.5 582.4 L573.5 582.5 L574.5 582.5 L575.5 582.6 L576.5 582.6 L577.5 582.7 L578.5 582.7 L579.5 582.8 L580.5 582.8 L581.5 582.8 L582.5 582.9 L583.5 582.9 L584.5 583.0 L585.5 583.0 L586.5 583.1 L587.5 583.1 L588.5 583.1 L589.5 583.2 L590.5 583.2 L591.5 583.3 L592.5 583.3 L593.5 583.4 L594.5 583.4 L595.5 583.5 L596.5 583.5 L597.5 583.5 L598.5 583.6 L599.5 583.6 L600.5 583.7 L601.5 583.7 L602.5 583.8 L603.5 583.8 L604.5 583.8 L605.5 583.9 L606.5 583.9 L607.5 584.0 L608.5 584.0 L609.5 584.0 L610.5 584.1 L611.5 584.1 L612.5 584.2 L613.5 584.2 L614.5 584.2 L615.5 584.3 L616.5 584.3 L617.5 584.4 L618.5 584.4 L619.5 584.4 L620.5 584.5 L621.5 584.5 L622.5 584.5 L623.5 584.6 L624.5 584.6 L625.5 584.7 L626.5 584.7 L627.5 584.7 L628.5 584.8 L629.5 584.8 L630.5 584.8 L631.5 584.9 L632.5 584.9 L633.5 584.9 L634.5 585.0 L635.5 585.0 L636.5 585.0 L637.5 585.1 L638.5 585.1 L639.5 585.1 L640.5 585.2 L641.5 585.2 L642.5 585.2 L643.5 585.3 L644.5 585.3 L645.5 585.3 L646.5 585.3 L647.5 585.4 L648.5 585.4 L649.5 585.4 L650.5 585.5 L651.5 585.5 L652.5 585.5 L653.5 585.5 L654.5 585.6 L655.5 585.6 L656.5 585.6 L657.5 585.6 L658.5 585.7 L659.5 585.7 L660.5 585.7 L661.5 585.7 L662.5 585.7 L663.5 585.8 L664.5 585.8 L665.5 585.8 L666.5 585.8 L667.5 585.8 L668.5 585.9 L669.5 585.9" fill="none" stroke="#7a2a55" stroke-width="0.8" stroke-opacity="0.9"/>
<path d="M142.5 510.4 L143.5 510.5 L144.5 510.7 L145.5 510.9 L146.5 511.1 L147.5 511.3 L148.5 511.5 L149.5 511.8 L150.5 512.0 L151.5 512.3 L152.5 512.6 L153.5 513.0 L154.5 513.3 L155.5 513.7 L156.5 514.1 L157.5 514.5 L158.5 514.9 L159.5 515.3 L160.5 515.8 L161.5 516.3 L162.5 516.8 L163.5 517.4 L164.5 517.9 L165.5 518.5 L166.5 519.2 L167.5 519.8 L168.5 520.5 L169.5 521.3 L170.5 522.0 L171.5 522.8 L172.5 523.7 L173.5 524.6 L174.5 525.5 L175.5 526.4 L176.5 527.4 L177.5 528.5 L178.5 529.5 L179.5 530.6 L180.5 531.8 L181.5 533.0 L182.5 534.2 L183.5 535.4 L184.5 536.7 L185.5 538.1 L186.5 539.4 L187.5 540.9 L188.5 542.4 L189.5 543.9 L190.5 545.5 L191.5 547.2 L192.5 549.0 L193.5 550.8 L194.5 552.7 L195.5 554.8 L196.5 556.9 L197.5 559.0 L198.5 561.3 L199.5 563.6 L200.5 566.0 L201.5 568.4 L202.5 570.9 L203.5 573.5 L204.5 576.1 L205.5 578.8 L206.5 581.5 L207.5 584.2 L208.5 587.0 L209.5 589.9 L210.5 592.7 L211.5 595.6 L212.5 598.5 L213.5 601.5 L214.5 604.5 L215.5 607.4 L216.5 610.4 L217.5 613.5 L218.5 616.5 L219.5 619.5 L220.5 622.5 L221.5 625.6 L222.5 628.6 L223.5 631.6 L224.5 634.6 L225.5 637.6 L226.5 640.5 L227.5 643.4 L228.5 646.3 L229.5 649.2 L230.5 652.0 L231.5 654.8 L232.5 657.4 L233.5 660.0 L234.5 662.6 L235.5 665.0 L236.5 667.3 L237.5 669.5 L238.5 671.6 L239.5 673.6 L240.5 675.5 L241.5 677.2 L242.5 678.8 L243.5 680.3 L244.5 681.6 L245.5 682.8 L246.5 683.9 L247.5 684.9 L248.5 685.8 L249.5 686.5 L250.5 687.2 L251.5 687.7 L252.5 688.1 L253.5 688.5 L254.5 688.7 L255.5 688.8 L256.5 688.8 L257.5 688.7 L258.5 688.6 L259.5 688.3 L260.5 688.0 L261.5 687.5 L262.5 687.0 L263.5 686.4 L264.5 685.7 L265.5 685.0 L266.5 684.1 L267.5 683.2 L268.5 682.3 L269.5 681.3 L270.5 680.2 L271.5 679.0 L272.5 677.9 L273.5 676.6 L274.5 675.3 L275.5 674.0 L276.5 672.6 L277.5 671.2 L278.5 669.8 L279.5 668.3 L280.5 666.8 L281.5 665.3 L282.5 663.7 L283.5 662.2 L284.5 660.6 L285.5 659.0 L286.5 657.4 L287.5 655.8 L288.5 654.2 L289.5 652.6 L290.5 651.0 L291.5 649.5 L292.5 647.9 L293.5 646.4 L294.5 644.9 L295.5 643.4 L296.5 641.9 L297.5 640.5 L298.5 639.0 L299.5 637.6 L300.5 636.3 L301.5 635.0 L302.5 633.7 L303.5 632.4 L304.5 631.1 L305.5 629.9 L306.5 628.8 L307.5 627.7 L308.5 626.6 L309.5 625.5 L310.5 624.5 L311.5 623.5 L312.5 622.6 L313.5 621.7 L314.5 620.9 L315.5 620.0 L316.5 619.3 L317.5 618.5 L318.5 617.8 L319.5 617.1 L320.5 616.5 L321.5 615.8 L322.5 615.2 L323.5 614.7 L324.5 614.1 L325.5 613.6 L326.5 613.1 L327.5 612.6 L328.5 612.2 L329.5 611.7 L330.5 611.3 L331.5 610.9 L332.5 610.5 L333.5 610.1 L334.5 609.8 L335.5 609.4 L336.5 609.1 L337.5 608.7 L338.5 608.4 L339.5 608.0 L340.5 607.7 L341.5 607.4 L342.5 607.1 L343.5 606.8 L344.5 606.5 L345.5 606.2 L346.5 605.9 L347.5 605.6 L348.5 605.3 L349.5 605.0 L350.5 604.8 L351.5 604.5 L352.5 604.2 L353.5 604.0 L354.5 603.7 L355.5 603.5 L356.5 603.2 L357.5 603.0 L358.5 602.8 L359.5 602.5 L360.5 602.3 L361.5 602.1 L362.5 601.9 L363.5 601.7 L364.5 601.5 L365.5 601.3 L366.5 601.1 L367.5 600.9 L368.5 600.7 L369.5 600.5 L370.5 600.3 L371.5 600.1 L372.5 599.9 L373.5 599.8 L374.5 599.6 L375.5 599.4 L376.5 599.3 L377.5 599.1 L378.5 599.0 L379.5 598.8 L380.5 598.7 L381.5 598.5 L382.5 598.4 L383.5 598.3 L384.5 598.1 L385.5 598.0 L386.5 597.9 L387.5 597.7 L388.5 597.6 L389.5 597.5 L390.5 597.4 L391.5 597.3 L392.5 597.2 L393.5 597.1 L394.5 597.0 L395.5 596.9 L396.5 596.8 L397.5 596.7 L398.5 596.6 L399.5 596.5 L400.5 596.4 L401.5 596.3 L402.5 596.2 L403.5 596.2 L404.5 596.1 L405.5 596.0 L406.5 595.9 L407.5 595.9 L408.5 595.8 L409.5 595.7 L410.5 595.7 L411.5 595.6 L412.5 595.5 L413.5 595.5 L414.5 595.4 L415.5 595.4 L416.5 595.3 L417.5 595.2 L418.5 595.2 L419.5 595.1 L420.5 595.1 L421.5 595.0 L422.5 595.0 L423.5 595.0 L424.5 594.9 L425.5 594.9 L426.5 594.8 L427.5 594.8 L428.5 594.8 L429.5 594.7 L430.5 594.7 L431.5 594.6 L432.5 594.6 L433.5 594.6 L434.5 594.5 L435.5 594.5 L436.5 594.5 L437.5 594.5 L438.5 594.4 L439.5 594.4 L440.5 594.4 L441.5 594.3 L442.5 594.3 L443.5 594.3 L444.5 594.3 L445.5 594.2 L446.5 594.2 L447.5 594.2 L448.5 594.2 L449.5 594.2 L450.5 594.1 L451.5 594.1 L452.5 594.1 L453.5 594.1 L454.5 594.1 L455.5 594.1 L456.5 594.1 L457.5 594.0 L458.5 594.0 L459.5 594.0 L460.5 594.0 L461.5 594.0 L462.5 594.0 L463.5 594.0 L464.5 594.0 L465.5 594.0 L466.5 594.0 L467.5 594.0 L468.5 594.0 L469.5 594.0 L470.5 594.0 L471.5 594.0 L472.5 594.0 L473.5 594.0 L474.5 594.0 L475.5 594.0 L476.5 594.0 L477.5 594.0 L478.5 594.0 L479.5 594.0 L480.5 594.0 L481.5 594.0 L482.5 594.0 L483.5 594.0 L484.5 594.0 L485.5 594.0 L486.5 594.0 L487.5 594.0 L488.5 594.0 L489.5 594.1 L490.5 594.1 L491.5 594.1 L492.5 594.1 L493.5 594.1 L494.5 594.1 L495.5 594.1 L496.5 594.2 L497.5 594.2 L498.5 594.2 L499.5 594.2 L500.5 594.2 L501.5 594.2 L502.5 594.3 L503.5 594.3 L504.5 594.3 L505.5 594.3 L506.5 594.3 L507.5 594.3 L508.5 594.4 L509.5 594.4 L510.5 594.4 L511.5 594.4 L512.5 594.5 L513.5 594.5 L514.5 594.5 L515.5 594.5 L516.5 594.6 L517.5 594.6 L518.5 594.6 L519.5 594.6 L520.5 594.7 L521.5 594.7 L522.5 594.7 L523.5 594.7 L524.5 594.8 L525.5 594.8 L526.5 594.8 L527.5 594.8 L528.5 594.9 L529.5 594.9 L530.5 594.9 L531.5 595.0 L532.5 595.0 L533.5 595.0 L534.5 595.1 L535.5 595.1 L536.5 595.1 L537.5 595.1 L538.5 595.2 L539.5 595.2 L540.5 595.2 L541.5 595.3 L542.5 595.3 L543.5 595.3 L544.5 595.4 L545.5 595.4 L546.5 595.4 L547.5 595.5 L548.5 595.5 L549.5 595.5 L550.5 595.6 L551.5 595.6 L552.5 595.6 L553.5 595.7 L554.5 595.7 L555.5 595.7 L556.5 595.8 L557.5 595.8 L558.5 595.9 L559.5 595.9 L560.5 595.9 L561.5 596.0 L562.5 596.0 L563.5 596.0 L564.5 596.1 L565.5 596.1 L566.5 596.1 L567.5 596.2 L568.5 596.2 L569.5 596.2 L570.5 596.3 L571.5 596.3 L572.5 596.4 L573.5 596.4 L574.5 596.4 L575.5 596.5 L576.5 596.5 L577.5 596.5 L578.5 596.6 L579.5 596.6 L580.5 596.6 L581.5 596.7 L582.5 596.7 L583.5 596.8 L584.5 596.8 L585.5 596.8 L586.5 596.9 L587.5 596.9 L588.5 596.9 L589.5 597.0 L590.5 597.0 L591.5 597.0 L592.5 597.1 L593.5 597.1 L594.5 597.1 L595.5 597.2 L596.5 597.2 L597.5 597.3 L598.5 597.3 L599.5 597.3 L600.5 597.4 L601.5 597.4 L602.5 597.4 L603.5 597.5 L604.5 597.5 L605.5 597.5 L606.5 597.6 L607.5 597.6 L608.5 597.6 L609.5 597.7 L610.5 597.7 L611.5 597.7 L612.5 597.8 L613.5 597.8 L614.5 597.8 L615.5 597.8 L616.5 597.9 L617.5 597.9 L618.5 597.9 L619.5 598.0 L620.5 598.0 L621.5 598.0 L622.5 598.0 L623.5 598.1 L624.5 598.1 L625.5 598.1 L626.5 598.2 L627.5 598.2 L628.5 598.2 L629.5 598.2 L630.5 598.3 L631.5 598.3 L632.5 598.3 L633.5 598.3 L634.5 598.4 L635.5 598.4 L636.5 598.4 L637.5 598.4 L638.5 598.5 L639.5 598.5 L640.5 598.5 L641.5 598.5 L642.5 598.5 L643.5 598.6 L644.5 598.6 L645.5 598.6 L646.5 598.6 L647.5 598.6 L648.5 598.7 L649.5 598.7 L650.5 598.7 L651.5 598.7 L652.5 598.7 L653.5 598.7 L654.5 598.7 L655.5 598.8 L656.5 598.8 L657.5 598.8 L658.5 598.8 L659.5 598.8 L660.5 598.8 L661.5 598.8 L662.5 598.8 L663.5 598.9 L664.5 598.9 L665.5 598.9 L666.5 598.9 L667.5 598.9 L668.5 598.9 L669.5 598.9" fill="none" stroke="#3d3d99" stroke-width="0.8" stroke-opacity="0.9"/>
<path d="M142.5 513.2 L143.5 513.0 L144.5 512.9 L145.5 512.8 L146.5 512.7 L147.5 512.7 L148.5 512.7 L149.5 512.7 L150.5 512.8 L151.5 512.9 L152.5 513.0 L153.5 513.2 L154.5 513.4 L155.5 513.6 L156.5 513.9 L157.5 514.2 L158.5 514.6 L159.5 515.0 L160.5 515.4 L161.5 515.9 L162.5 516.3 L163.5 516.9 L164.5 517.4 L165.5 518.0 L166.5 518.7 L167.5 519.4 L168.5 520.1 L169.5 520.9 L170.5 521.7 L171.5 522.6 L172.5 523.6 L173.5 524.6 L174.5 525.7 L175.5 526.9 L176.5 528.2 L177.5 529.5 L178.5 530.9 L179.5 532.4 L180.5 533.9 L181.5 535.5 L182.5 537.2 L183.5 538.9 L184.5 540.7 L185.5 542.6 L186.5 544.5 L187.5 546.5 L188.5 548.6 L189.5 550.7 L190.5 553.0 L191.5 555.3 L192.5 557.7 L193.5 560.3 L194.5 562.9 L195.5 565.6 L196.5 568.4 L197.5 571.4 L198.5 574.4 L199.5 577.5 L200.5 580.8 L201.5 584.1 L202.5 587.5 L203.5 591.0 L204.5 594.6 L205.5 598.2 L206.5 602.0 L207.5 605.8 L208.5 609.7 L209.5 613.7 L210.5 617.7 L211.5 621.8 L212.5 625.9 L213.5 630.1 L214.5 634.4 L215.5 638.6 L216.5 642.9 L217.5 647.2 L218.5 651.5 L219.5 655.8 L220.5 660.1 L221.5 664.4 L222.5 668.7 L223.5 672.9 L224.5 677.1 L225.5 681.3 L226.5 685.4 L227.5 689.5 L228.5 693.5 L229.5 697.4 L230.5 701.3 L231.5 705.1 L232.5 708.8 L233.5 712.4 L234.5 715.9 L235.5 719.2 L236.5 722.5 L237.5 725.6 L238.5 728.7 L239.5 731.5 L240.5 734.3 L241.5 736.8 L242.5 739.3 L243.5 741.5 L244.5 743.6 L245.5 745.5 L246.5 747.2 L247.5 748.8 L248.5 750.1 L249.5 751.2 L250.5 752.2 L251.5 753.0 L252.5 753.6 L253.5 754.0 L254.5 754.3 L255.5 754.4 L256.5 754.4 L257.5 754.2 L258.5 753.8 L259.5 753.3 L260.5 752.7 L261.5 752.0 L262.5 751.1 L263.5 750.1 L264.5 749.0 L265.5 747.8 L266.5 746.5 L267.5 745.1 L268.5 743.5 L269.5 741.9 L270.5 740.3 L271.5 738.5 L272.5 736.7 L273.5 734.8 L274.5 732.8 L275.5 730.8 L276.5 728.7 L277.5 726.6 L278.5 724.4 L279.5 722.2 L280.5 719.9 L281.5 717.7 L282.5 715.4 L283.5 713.1 L284.5 710.7 L285.5 708.4 L286.5 706.1 L287.5 703.7 L288.5 701.4 L289.5 699.1 L290.5 696.7 L291.5 694.4 L292.5 692.2 L293.5 689.9 L294.5 687.7 L295.5 685.5 L296.5 683.3 L297.5 681.2 L298.5 679.1 L299.5 677.0 L300.5 675.0 L301.5 673.1 L302.5 671.2 L303.5 669.4 L304.5 667.6 L305.5 665.9 L306.5 664.2 L307.5 662.5 L308.5 661.0 L309.5 659.4 L310.5 657.9 L311.5 656.5 L312.5 655.1 L313.5 653.7 L314.5 652.4 L315.5 651.1 L316.5 649.9 L317.5 648.7 L318.5 647.5 L319.5 646.4 L320.5 645.4 L321.5 644.3 L322.5 643.3 L323.5 642.3 L324.5 641.4 L325.5 640.5 L326.5 639.6 L327.5 638.8 L328.5 638.0 L329.5 637.2 L330.5 636.5 L331.5 635.8 L332.5 635.1 L333.5 634.4 L334.5 633.7 L335.5 633.1 L336.5 632.5 L337.5 632.0 L338.5 631.4 L339.5 630.9 L340.5 630.3 L341.5 629.8 L342.5 629.4 L343.5 628.9 L344.5 628.4 L345.5 628.0 L346.5 627.6 L347.5 627.1 L348.5 626.7 L349.5 626.3 L350.5 625.9 L351.5 625.6 L352.5 625.2 L353.5 624.8 L354.5 624.5 L355.5 624.1 L356.5 623.8 L357.5 623.4 L358.5 623.1 L359.5 622.8 L360.5 622.5 L361.5 622.1 L362.5 621.8 L363.5 621.5 L364.5 621.3 L365.5 621.0 L366.5 620.7 L367.5 620.4 L368.5 620.1 L369.5 619.9 L370.5 619.6 L371.5 619.4 L372.5 619.1 L373.5 618.9 L374.5 618.7 L375.5 618.4 L376.5 618.2 L377.5 618.0 L378.5 617.8 L379.5 617.6 L380.5 617.4 L381.5 617.2 L382.5 617.0 L383.5 616.8 L384.5 616.6 L385.5 616.4 L386.5 616.2 L387.5 616.0 L388.5 615.9 L389.5 615.7 L390.5 615.5 L391.5 615.4 L392.5 615.2 L393.5 615.1 L394.5 614.9 L395.5 614.8 L396.5 614.6 L397.5 614.5 L398.5 614.3 L399.5 614.2 L400.5 614.0 L401.5 613.9 L402.5 613.8 L403.5 613.6 L404.5 613.5 L405.5 613.4 L406.5 613.3 L407.5 613.1 L408.5 613.0 L409.5 612.9 L410.5 612.8 L411.5 612.6 L412.5 612.5 L413.5 612.4 L414.5 612.3 L415.5 612.2 L416.5 612.1 L417.5 612.0 L418.5 611.9 L419.5 611.8 L420.5 611.7 L421.5 611.6 L422.5 611.5 L423.5 611.4 L424.5 611.3 L425.5 611.2 L426.5 611.1 L427.5 611.0 L428.5 610.9 L429.5 610.8 L430.5 610.8 L431.5 610.7 L432.5 610.6 L433.5 610.5 L434.5 610.4 L435.5 610.4 L436.5 610.3 L437.5 610.2 L438.5 610.1 L439.5 610.1 L440.5 610.0 L441.5 609.9 L442.5 609.9 L443.5 609.8 L444.5 609.8 L445.5 609.7 L446.5 609.6 L447.5 609.6 L448.5 609.5 L449.5 609.5 L450.5 609.4 L451.5 609.4 L452.5 609.3 L453.5 609.3 L454.5 609.2 L455.5 609.2 L456.5 609.1 L457.5 609.1 L458.5 609.0 L459.5 609.0 L460.5 608.9 L461.5 608.9 L462.5 608.9 L463.5 608.8 L464.5 608.8 L465.5 608.8 L466.5 608.7 L467.5 608.7 L468.5 608.7 L469.5 608.6 L470.5 608.6 L471.5 608.6 L472.5 608.6 L473.5 608.5 L474.5 608.5 L475.5 608.5 L476.5 608.5 L477.5 608.5 L478.5 608.4 L479.5 608.4 L480.5 608.4 L481.5 608.4 L482.5 608.4 L483.5 608.4 L484.5 608.4 L485.5 608.3 L486.5 608.3 L487.5 608.3 L488.5 608.3 L489.5 608.3 L490.5 608.3 L491.5 608.3 L492.5 608.3 L493.5 608.3 L494.5 608.3 L495.5 608.3 L496.5 608.3 L497.5 608.3 L498.5 608.3 L499.5 608.3 L500.5 608.3 L501.5 608.3 L502.5 608.3 L503.5 608.3 L504.5 608.3 L505.5 608.3 L506.5 608.3 L507.5 608.3 L508.5 608.4 L509.5 608.4 L510.5 608.4 L511.5 608.4 L512.5 608.4 L513.5 608.4 L514.5 608.4 L515.5 608.4 L516.5 608.5 L517.5 608.5 L518.5 608.5 L519.5 608.5 L520.5 608.5 L521.5 608.5 L522.5 608.6 L523.5 608.6 L524.5 608.6 L525.5 608.6 L526.5 608.7 L527.5 608.7 L528.5 608.7 L529.5 608.7 L530.5 608.7 L531.5 608.8 L532.5 608.8 L533.5 608.8 L534.5 608.8 L535.5 608.9 L536.5 608.9 L537.5 608.9 L538.5 609.0 L539.5 609.0 L540.5 609.0 L541.5 609.0 L542.5 609.1 L543.5 609.1 L544.5 609.1 L545.5 609.2 L546.5 609.2 L547.5 609.2 L548.5 609.3 L549.5 609.3 L550.5 609.3 L551.5 609.4 L552.5 609.4 L553.5 609.4 L554.5 609.5 L555.5 609.5 L556.5 609.5 L557.5 609.6 L558.5 609.6 L559.5 609.6 L560.5 609.7 L561.5 609.7 L562.5 609.7 L563.5 609.8 L564.5 609.8 L565.5 609.8 L566.5 609.9 L567.5 609.9 L568.5 609.9 L569.5 610.0 L570.5 610.0 L571.5 610.1 L572.5 610.1 L573.5 610.1 L574.5 610.2 L575.5 610.2 L576.5 610.2 L577.5 610.3 L578.5 610.3 L579.5 610.3 L580.5 610.4 L581.5 610.4 L582.5 610.5 L583.5 610.5 L584.5 610.5 L585.5 610.6 L586.5 610.6 L587.5 610.6 L588.5 610.7 L589.5 610.7 L590.5 610.7 L591.5 610.8 L592.5 610.8 L593.5 610.8 L594.5 610.9 L595.5 610.9 L596.5 610.9 L597.5 611.0 L598.5 611.0 L599.5 611.0 L600.5 611.1 L601.5 611.1 L602.5 611.1 L603.5 611.2 L604.5 611.2 L605.5 611.2 L606.5 611.3 L607.5 611.3 L608.5 611.3 L609.5 611.4 L610.5 611.4 L611.5 611.4 L612.5 611.5 L613.5 611.5 L614.5 611.5 L615.5 611.5 L616.5 611.6 L617.5 611.6 L618.5 611.6 L619.5 611.7 L620.5 611.7 L621.5 611.7 L622.5 611.7 L623.5 611.8 L624.5 611.8 L625.5 611.8 L626.5 611.8 L627.5 611.9 L628.5 611.9 L629.5 611.9 L630.5 611.9 L631.5 611.9 L632.5 612.0 L633.5 612.0 L634.5 612.0 L635.5 612.0 L636.5 612.0 L637.5 612.0 L638.5 612.1 L639.5 612.1 L640.5 612.1 L641.5 612.1 L642.5 612.1 L643.5 612.1 L644.5 612.1 L645.5 612.2 L646.5 612.2 L647.5 612.2 L648.5 612.2 L649.5 612.2 L650.5 612.2 L651.5 612.2 L652.5 612.2 L653.5 612.2 L654.5 612.2 L655.5 612.2 L656.5 612.2 L657.5 612.2 L658.5 612.2 L659.5 612.2 L660.5 612.2 L661.5 612.2 L662.5 612.2 L663.5 612.2 L664.5 612.2 L665.5 612.2 L666.5 612.2 L667.5 612.2 L668.5 612.2 L669.5 612.2" fill="none" stroke="#99772e" stroke-width="0.8" stroke-opacity="0.9"/>
<line x1="142.0" x2="669.7" y1="570.36" y2="570.36" stroke="#993d6f" stroke-width="1" stroke-opacity="0.8"/>
<line x1="142.0" x2="669.7" y1="630.86" y2="630.86" stroke="#3d3d99" stroke-width="1" stroke-opacity="0.9"/>
</g>
<path d="M142.50 748.5 v-5.8 M142.50 446.0 v5.8 M168.85 748.5 v-3.5 M168.85 446.0 v3.5 M195.20 748.5 v-3.5 M195.20 446.0 v3.5 M221.55 748.5 v-3.5 M221.55 446.0 v3.5 M247.90 748.5 v-3.5 M247.90 446.0 v3.5 M274.25 748.5 v-5.8 M274.25 446.0 v5.8 M300.60 748.5 v-3.5 M300.60 446.0 v3.5 M326.95 748.5 v-3.5 M326.95 446.0 v3.5 M353.30 748.5 v-3.5 M353.30 446.0 v3.5 M379.65 748.5 v-3.5 M379.65 446.0 v3.5 M406.00 748.5 v-5.8 M406.00 446.0 v5.8 M432.35 748.5 v-3.5 M432.35 446.0 v3.5 M458.70 748.5 v-3.5 M458.70 446.0 v3.5 M485.05 748.5 v-3.5 M485.05 446.0 v3.5 M511.40 748.5 v-3.5 M511.40 446.0 v3.5 M537.75 748.5 v-5.8 M537.75 446.0 v5.8 M564.10 748.5 v-3.5 M564.10 446.0 v3.5 M590.45 748.5 v-3.5 M590.45 446.0 v3.5 M616.80 748.5 v-3.5 M616.80 446.0 v3.5 M643.15 748.5 v-3.5 M643.15 446.0 v3.5 M669.50 748.5 v-5.8 M669.50 446.0 v5.8 M131.5 748.50 h6.2 M680.5 748.50 h-6.2 M131.5 731.69 h3.7 M680.5 731.69 h-3.7 M131.5 714.89 h3.7 M680.5 714.89 h-3.7 M131.5 698.08 h3.7 M680.5 698.08 h-3.7 M131.5 681.28 h6.2 M680.5 681.28 h-6.2 M131.5 664.47 h3.7 M680.5 664.47 h-3.7 M131.5 647.67 h3.7 M680.5 647.67 h-3.7 M131.5 630.86 h3.7 M680.5 630.86 h-3.7 M131.5 614.06 h6.2 M680.5 614.06 h-6.2 M131.5 597.25 h3.7 M680.5 597.25 h-3.7 M131.5 580.44 h3.7 M680.5 580.44 h-3.7 M131.5 563.64 h3.7 M680.5 563.64 h-3.7 M131.5 546.83 h6.2 M680.5 546.83 h-6.2 M131.5 530.03 h3.7 M680.5 530.03 h-3.7 M131.5 513.22 h3.7 M680.5 513.22 h-3.7 M131.5 496.42 h3.7 M680.5 496.42 h-3.7 M131.5 479.61 h6.2 M680.5 479.61 h-6.2 M131.5 462.81 h3.7 M680.5 462.81 h-3.7 M131.5 446.00 h3.7 M680.5 446.00 h-3.7" stroke="#787878" stroke-width="0.9" fill="none"/>
<rect x="131.5" y="446.0" width="549.0" height="302.5" fill="none" stroke="#909090" stroke-width="1.1"/>
<text transform="translate(127.7 756.0) scale(1.06 1)" text-anchor="end" class="tk">0</text>
<text transform="translate(127.7 688.8) scale(1.06 1)" text-anchor="end" class="tk">20</text>
<text transform="translate(127.7 621.6) scale(1.06 1)" text-anchor="end" class="tk">40</text>
<text transform="translate(127.7 554.3) scale(1.06 1)" text-anchor="end" class="tk">60</text>
<text transform="translate(127.7 487.1) scale(1.06 1)" text-anchor="end" class="tk">80</text>
<text transform="translate(142.5 772.4) scale(1.06 1)" text-anchor="middle" class="tk">0.000</text>
<text transform="translate(274.2 772.4) scale(1.06 1)" text-anchor="middle" class="tk">0.005</text>
<text transform="translate(406.0 772.4) scale(1.06 1)" text-anchor="middle" class="tk">0.010</text>
<text transform="translate(537.8 772.4) scale(1.06 1)" text-anchor="middle" class="tk">0.015</text>
<text transform="translate(669.5 772.4) scale(1.06 1)" text-anchor="middle" class="tk">0.020</text>
<text x="406.1" y="438.8" text-anchor="middle" class="tt">(b)</text>
<text transform="translate(390.6 804.6) scale(1.2 1)" font-size="24" font-style="italic">m</text>
<text x="410.9" y="808.3" font-size="17">1</text>
<text transform="translate(85.2 612.4) rotate(-90) scale(0.88 1)" font-style="italic" font-size="27.5">θ</text>
<text transform="translate(89.0 601.1) rotate(-90) scale(1 1.22)" font-size="17.5">23</text>
</g>
</svg>
</body></html>
